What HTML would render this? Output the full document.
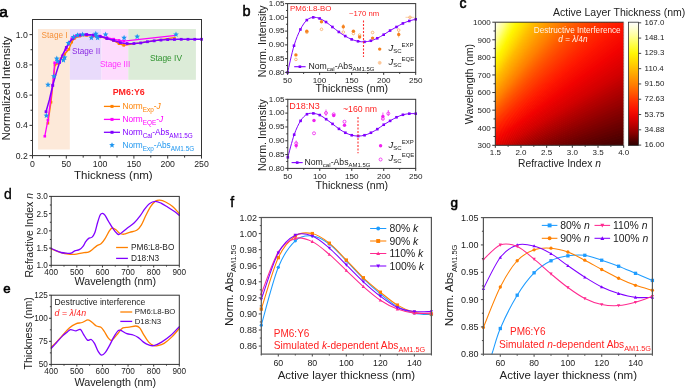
<!DOCTYPE html>
<html><head><meta charset="utf-8"><style>
html,body{margin:0;padding:0;background:#fff;}
body{width:685px;height:388px;overflow:hidden;}
svg{display:block;font-family:"Liberation Sans",sans-serif;will-change:transform;}
</style></head><body>
<svg width="685" height="388" viewBox="0 0 685 388" font-family="Liberation Sans, sans-serif">
<text x="-0.8" y="16.9" font-size="15.5" fill="#000" stroke="#000" stroke-width="0.7">a</text>
<rect x="38" y="29" width="31.8" height="120.5" fill="#fde9d9"/>
<rect x="69.8" y="29" width="31.7" height="50.8" fill="#e9dbfb"/>
<rect x="101.5" y="29" width="26.8" height="50.8" fill="#fddcfd"/>
<rect x="128.3" y="29" width="67.6" height="50.8" fill="#dcecd8"/>
<text x="41.6" y="38.2" font-size="8.2" fill="#f59038">Stage I</text>
<text x="72" y="53.7" font-size="8.2" fill="#8a2be2">Stage II</text>
<text x="99.9" y="67.4" font-size="8.2" fill="#ff30ff">Stage III</text>
<text x="149.9" y="60.6" font-size="8.4" fill="#2f922f">Stage IV</text>
<polyline points="47.91,123.24 51.02,102.22 55.01,64.87 57.51,63.35 60.89,58.82 64.61,54.28 68.87,49.29 71.71,42.18 74.41,38.4 79.82,36.13 86.58,35.38 93.34,36.13 100.1,36.89 106.86,38.4 113.62,40.67 119.03,43.7 123.76,45.36 175.81,37.34" fill="none" stroke="#ff8000" stroke-width="1.3" stroke-linejoin="round"/>
<rect x="46.61" y="121.94" width="2.6" height="2.6" fill="#ff8000"/>
<rect x="49.72" y="100.92" width="2.6" height="2.6" fill="#ff8000"/>
<rect x="53.71" y="63.57" width="2.6" height="2.6" fill="#ff8000"/>
<rect x="56.21" y="62.05" width="2.6" height="2.6" fill="#ff8000"/>
<rect x="59.59" y="57.52" width="2.6" height="2.6" fill="#ff8000"/>
<rect x="63.31" y="52.98" width="2.6" height="2.6" fill="#ff8000"/>
<rect x="67.57" y="47.99" width="2.6" height="2.6" fill="#ff8000"/>
<rect x="70.41" y="40.88" width="2.6" height="2.6" fill="#ff8000"/>
<rect x="73.11" y="37.1" width="2.6" height="2.6" fill="#ff8000"/>
<rect x="78.52" y="34.83" width="2.6" height="2.6" fill="#ff8000"/>
<rect x="85.28" y="34.08" width="2.6" height="2.6" fill="#ff8000"/>
<rect x="92.04" y="34.83" width="2.6" height="2.6" fill="#ff8000"/>
<rect x="98.8" y="35.59" width="2.6" height="2.6" fill="#ff8000"/>
<rect x="105.56" y="37.1" width="2.6" height="2.6" fill="#ff8000"/>
<rect x="112.32" y="39.37" width="2.6" height="2.6" fill="#ff8000"/>
<rect x="117.73" y="42.4" width="2.6" height="2.6" fill="#ff8000"/>
<rect x="122.46" y="44.06" width="2.6" height="2.6" fill="#ff8000"/>
<polyline points="44.8,136.24 47.91,120.21 52.58,85.58 54.67,62.75 58.8,62.75 62.24,55.79 65.62,49.74 68.33,44.45 71.71,38.86 75.09,36.44 79.82,35.23 86.58,34.62 93.34,35.38 100.1,36.13 106.86,37.65 113.62,39.16 119.03,40.37 123.76,41.12 175.81,35.38" fill="none" stroke="#ff00ff" stroke-width="1.3" stroke-linejoin="round"/>
<rect x="43.5" y="134.94" width="2.6" height="2.6" fill="#ff00ff"/>
<rect x="46.61" y="118.91" width="2.6" height="2.6" fill="#ff00ff"/>
<rect x="51.28" y="84.28" width="2.6" height="2.6" fill="#ff00ff"/>
<rect x="53.37" y="61.45" width="2.6" height="2.6" fill="#ff00ff"/>
<rect x="57.5" y="61.45" width="2.6" height="2.6" fill="#ff00ff"/>
<rect x="60.94" y="54.49" width="2.6" height="2.6" fill="#ff00ff"/>
<rect x="64.32" y="48.44" width="2.6" height="2.6" fill="#ff00ff"/>
<rect x="67.03" y="43.15" width="2.6" height="2.6" fill="#ff00ff"/>
<rect x="70.41" y="37.56" width="2.6" height="2.6" fill="#ff00ff"/>
<rect x="73.79" y="35.14" width="2.6" height="2.6" fill="#ff00ff"/>
<rect x="78.52" y="33.93" width="2.6" height="2.6" fill="#ff00ff"/>
<rect x="85.28" y="33.32" width="2.6" height="2.6" fill="#ff00ff"/>
<rect x="92.04" y="34.08" width="2.6" height="2.6" fill="#ff00ff"/>
<rect x="98.8" y="34.83" width="2.6" height="2.6" fill="#ff00ff"/>
<rect x="105.56" y="36.35" width="2.6" height="2.6" fill="#ff00ff"/>
<rect x="112.32" y="37.86" width="2.6" height="2.6" fill="#ff00ff"/>
<rect x="117.73" y="39.07" width="2.6" height="2.6" fill="#ff00ff"/>
<rect x="122.46" y="39.82" width="2.6" height="2.6" fill="#ff00ff"/>
<polyline points="46.02,111.75 49.4,99.65 52.78,85.28 56.16,73.18 59.54,62.45 62.92,53.98 66.3,47.48 69.68,41.88 73.06,38.25 76.44,35.98 79.82,34.92 83.2,34.62 86.58,34.62 89.96,34.77 93.34,35.08 96.72,35.68 100.1,36.44 103.48,37.34 106.86,38.55 110.24,39.46 113.62,40.37 117,41.58 120.38,42.64 123.76,43.24 127.14,43.54 130.52,43.7 133.9,43.54 137.28,43.24 140.66,42.94 144.04,42.33 147.42,41.73 150.8,41.28 154.18,40.82 157.56,40.37 160.94,40.07 164.32,39.76 167.7,39.61 171.08,39.46 174.46,39.46 177.84,39.31 181.22,39.31 184.6,39.31 187.98,39.31 191.36,39.31 194.74,39.31 198.12,39.31 201.5,39.31" fill="none" stroke="#8000ff" stroke-width="1.5" stroke-linejoin="round"/>
<rect x="44.62" y="110.35" width="2.8" height="2.8" fill="#8000ff"/>
<rect x="51.38" y="83.88" width="2.8" height="2.8" fill="#8000ff"/>
<rect x="58.14" y="61.05" width="2.8" height="2.8" fill="#8000ff"/>
<rect x="64.9" y="46.08" width="2.8" height="2.8" fill="#8000ff"/>
<rect x="71.66" y="36.85" width="2.8" height="2.8" fill="#8000ff"/>
<rect x="78.42" y="33.52" width="2.8" height="2.8" fill="#8000ff"/>
<rect x="85.18" y="33.22" width="2.8" height="2.8" fill="#8000ff"/>
<rect x="91.94" y="33.68" width="2.8" height="2.8" fill="#8000ff"/>
<rect x="98.7" y="35.04" width="2.8" height="2.8" fill="#8000ff"/>
<rect x="105.46" y="37.15" width="2.8" height="2.8" fill="#8000ff"/>
<rect x="112.22" y="38.97" width="2.8" height="2.8" fill="#8000ff"/>
<rect x="118.98" y="41.24" width="2.8" height="2.8" fill="#8000ff"/>
<rect x="125.74" y="42.14" width="2.8" height="2.8" fill="#8000ff"/>
<rect x="132.5" y="42.14" width="2.8" height="2.8" fill="#8000ff"/>
<rect x="139.26" y="41.54" width="2.8" height="2.8" fill="#8000ff"/>
<rect x="146.02" y="40.33" width="2.8" height="2.8" fill="#8000ff"/>
<rect x="152.78" y="39.42" width="2.8" height="2.8" fill="#8000ff"/>
<rect x="159.54" y="38.67" width="2.8" height="2.8" fill="#8000ff"/>
<rect x="166.3" y="38.21" width="2.8" height="2.8" fill="#8000ff"/>
<rect x="173.06" y="38.06" width="2.8" height="2.8" fill="#8000ff"/>
<rect x="179.82" y="37.91" width="2.8" height="2.8" fill="#8000ff"/>
<rect x="186.58" y="37.91" width="2.8" height="2.8" fill="#8000ff"/>
<rect x="193.34" y="37.91" width="2.8" height="2.8" fill="#8000ff"/>
<rect x="200.1" y="37.91" width="2.8" height="2.8" fill="#8000ff"/>
<polygon points="46.4,112.6 47.19,114.51 49.25,114.67 47.68,116.02 48.16,118.03 46.4,116.95 44.64,118.03 45.12,116.02 43.55,114.67 45.61,114.51" fill="#1e96f0"/>
<polygon points="48,81.8 48.79,83.71 50.85,83.87 49.28,85.22 49.76,87.23 48,86.15 46.24,87.23 46.72,85.22 45.15,83.87 47.21,83.71" fill="#1e96f0"/>
<polygon points="53.9,73.3 54.69,75.21 56.75,75.37 55.18,76.72 55.66,78.73 53.9,77.65 52.14,78.73 52.62,76.72 51.05,75.37 53.11,75.21" fill="#1e96f0"/>
<polygon points="56.8,55.6 57.59,57.51 59.65,57.67 58.08,59.02 58.56,61.03 56.8,59.95 55.04,61.03 55.52,59.02 53.95,57.67 56.01,57.51" fill="#1e96f0"/>
<polygon points="57.6,58.2 58.39,60.11 60.45,60.27 58.88,61.62 59.36,63.63 57.6,62.55 55.84,63.63 56.32,61.62 54.75,60.27 56.81,60.11" fill="#1e96f0"/>
<polygon points="64.6,54.5 65.39,56.41 67.45,56.57 65.88,57.92 66.36,59.93 64.6,58.85 62.84,59.93 63.32,57.92 61.75,56.57 63.81,56.41" fill="#1e96f0"/>
<polygon points="63.4,57.2 64.19,59.11 66.25,59.27 64.68,60.62 65.16,62.63 63.4,61.55 61.64,62.63 62.12,60.62 60.55,59.27 62.61,59.11" fill="#1e96f0"/>
<polygon points="68.4,40.2 69.19,42.11 71.25,42.27 69.68,43.62 70.16,45.63 68.4,44.55 66.64,45.63 67.12,43.62 65.55,42.27 67.61,42.11" fill="#1e96f0"/>
<polygon points="73.5,34 74.29,35.91 76.35,36.07 74.78,37.42 75.26,39.43 73.5,38.35 71.74,39.43 72.22,37.42 70.65,36.07 72.71,35.91" fill="#1e96f0"/>
<polygon points="77.5,32.2 78.29,34.11 80.35,34.27 78.78,35.62 79.26,37.63 77.5,36.55 75.74,37.63 76.22,35.62 74.65,34.27 76.71,34.11" fill="#1e96f0"/>
<polygon points="82.6,31.5 83.39,33.41 85.45,33.57 83.88,34.92 84.36,36.93 82.6,35.85 80.84,36.93 81.32,34.92 79.75,33.57 81.81,33.41" fill="#1e96f0"/>
<polygon points="91.4,34.8 92.19,36.71 94.25,36.87 92.68,38.22 93.16,40.23 91.4,39.15 89.64,40.23 90.12,38.22 88.55,36.87 90.61,36.71" fill="#1e96f0"/>
<polygon points="95.8,30.8 96.59,32.71 98.65,32.87 97.08,34.22 97.56,36.23 95.8,35.15 94.04,36.23 94.52,34.22 92.95,32.87 95.01,32.71" fill="#1e96f0"/>
<polygon points="97.6,34.8 98.39,36.71 100.45,36.87 98.88,38.22 99.36,40.23 97.6,39.15 95.84,40.23 96.32,38.22 94.75,36.87 96.81,36.71" fill="#1e96f0"/>
<polygon points="96.5,32.8 97.29,34.71 99.35,34.87 97.78,36.22 98.26,38.23 96.5,37.15 94.74,38.23 95.22,36.22 93.65,34.87 95.71,34.71" fill="#1e96f0"/>
<polygon points="105.6,31.5 106.39,33.41 108.45,33.57 106.88,34.92 107.36,36.93 105.6,35.85 103.84,36.93 104.32,34.92 102.75,33.57 104.81,33.41" fill="#1e96f0"/>
<polygon points="124.1,34.8 124.89,36.71 126.95,36.87 125.38,38.22 125.86,40.23 124.1,39.15 122.34,40.23 122.82,38.22 121.25,36.87 123.31,36.71" fill="#1e96f0"/>
<polygon points="137.2,33.7 137.99,35.61 140.05,35.77 138.48,37.12 138.96,39.13 137.2,38.05 135.44,39.13 135.92,37.12 134.35,35.77 136.41,35.61" fill="#1e96f0"/>
<polygon points="176,31.5 176.79,33.41 178.85,33.57 177.28,34.92 177.76,36.93 176,35.85 174.24,36.93 174.72,34.92 173.15,33.57 175.21,33.41" fill="#1e96f0"/>
<rect x="32.5" y="19.5" width="169" height="136.1" fill="none" stroke="#333" stroke-width="1"/>
<line x1="29.5" y1="155.6" x2="32.5" y2="155.6" stroke="#333" stroke-width="1"/>
<line x1="29.5" y1="125.36" x2="32.5" y2="125.36" stroke="#333" stroke-width="1"/>
<line x1="29.5" y1="95.11" x2="32.5" y2="95.11" stroke="#333" stroke-width="1"/>
<line x1="29.5" y1="64.87" x2="32.5" y2="64.87" stroke="#333" stroke-width="1"/>
<line x1="29.5" y1="34.62" x2="32.5" y2="34.62" stroke="#333" stroke-width="1"/>
<line x1="30.5" y1="140.48" x2="32.5" y2="140.48" stroke="#333" stroke-width="1"/>
<line x1="30.5" y1="110.23" x2="32.5" y2="110.23" stroke="#333" stroke-width="1"/>
<line x1="30.5" y1="79.99" x2="32.5" y2="79.99" stroke="#333" stroke-width="1"/>
<line x1="30.5" y1="49.74" x2="32.5" y2="49.74" stroke="#333" stroke-width="1"/>
<text x="27.8" y="158.73" font-size="8.7" fill="#222" text-anchor="end">0.2</text>
<text x="27.8" y="128.49" font-size="8.7" fill="#222" text-anchor="end">0.4</text>
<text x="27.8" y="98.24" font-size="8.7" fill="#222" text-anchor="end">0.6</text>
<text x="27.8" y="68" font-size="8.7" fill="#222" text-anchor="end">0.8</text>
<text x="27.8" y="37.75" font-size="8.7" fill="#222" text-anchor="end">1.0</text>
<line x1="32.5" y1="155.6" x2="32.5" y2="158.6" stroke="#333" stroke-width="1"/>
<line x1="66.3" y1="155.6" x2="66.3" y2="158.6" stroke="#333" stroke-width="1"/>
<line x1="100.1" y1="155.6" x2="100.1" y2="158.6" stroke="#333" stroke-width="1"/>
<line x1="133.9" y1="155.6" x2="133.9" y2="158.6" stroke="#333" stroke-width="1"/>
<line x1="167.7" y1="155.6" x2="167.7" y2="158.6" stroke="#333" stroke-width="1"/>
<line x1="201.5" y1="155.6" x2="201.5" y2="158.6" stroke="#333" stroke-width="1"/>
<line x1="49.4" y1="155.6" x2="49.4" y2="157.6" stroke="#333" stroke-width="1"/>
<line x1="83.2" y1="155.6" x2="83.2" y2="157.6" stroke="#333" stroke-width="1"/>
<line x1="117" y1="155.6" x2="117" y2="157.6" stroke="#333" stroke-width="1"/>
<line x1="150.8" y1="155.6" x2="150.8" y2="157.6" stroke="#333" stroke-width="1"/>
<line x1="184.6" y1="155.6" x2="184.6" y2="157.6" stroke="#333" stroke-width="1"/>
<text x="32.5" y="167" font-size="8.7" fill="#222" text-anchor="middle">0</text>
<text x="66.3" y="167" font-size="8.7" fill="#222" text-anchor="middle">50</text>
<text x="100.1" y="167" font-size="8.7" fill="#222" text-anchor="middle">100</text>
<text x="133.9" y="167" font-size="8.7" fill="#222" text-anchor="middle">150</text>
<text x="167.7" y="167" font-size="8.7" fill="#222" text-anchor="middle">200</text>
<text x="201.5" y="167" font-size="8.7" fill="#222" text-anchor="middle">250</text>
<text x="9.5" y="88.5" font-size="11.5" fill="#222" text-anchor="middle" transform="rotate(-90 9.5 88.5)">Normalized Intensity</text>
<text x="113.4" y="178.6" font-size="11.5" fill="#222" text-anchor="middle">Thickness (nm)</text>
<text x="112.7" y="95" font-size="8.9" fill="#ff1f1f" font-weight="bold">PM6:Y6</text>
<line x1="103.9" y1="106.4" x2="120" y2="106.4" stroke="#ff8000" stroke-width="1.3"/>
<rect x="110.5" y="104.9" width="3" height="3" fill="#ff8000"/>
<line x1="103.9" y1="119.4" x2="120" y2="119.4" stroke="#ff00ff" stroke-width="1.3"/>
<rect x="110.5" y="117.9" width="3" height="3" fill="#ff00ff"/>
<line x1="103.9" y1="132.3" x2="120" y2="132.3" stroke="#8000ff" stroke-width="1.3"/>
<rect x="110.5" y="130.8" width="3" height="3" fill="#8000ff"/>
<polygon points="112,142.2 112.79,144.11 114.85,144.27 113.28,145.62 113.76,147.63 112,146.55 110.24,147.63 110.72,145.62 109.15,144.27 111.21,144.11" fill="#1e96f0"/>
<text x="122.4" y="109.4" font-size="8.3" fill="#ff8000"><tspan>Norm</tspan><tspan font-size="6.4" dy="2.2">Exp</tspan><tspan dy="-2.2">-</tspan><tspan font-style="italic">J</tspan></text>
<text x="122.4" y="122.4" font-size="8.3" fill="#ff00ff"><tspan>Norm</tspan><tspan font-size="6.4" dy="2.2">EQE</tspan><tspan dy="-2.2">-</tspan><tspan font-style="italic">J</tspan></text>
<text x="122.4" y="135.3" font-size="8.3" fill="#8000ff"><tspan>Norm</tspan><tspan font-size="6.4" dy="2.2">Cal</tspan><tspan dy="-2.2">-Abs</tspan><tspan font-size="6.4" dy="2.2">AM1.5G</tspan></text>
<text x="122.4" y="148.3" font-size="8.3" fill="#1e96f0"><tspan>Norm</tspan><tspan font-size="6.4" dy="2.2">Exp</tspan><tspan dy="-2.2">-Abs</tspan><tspan font-size="6.4" dy="2.2">AM1.5G</tspan></text>
<text x="242.6" y="15.6" font-size="14.5" fill="#000" stroke="#000" stroke-width="0.5">b</text>
<g>
<path d="M287.6,72.4 C288.67,67.95 291.87,52.86 294,45.71 C296.14,38.55 298.28,33.73 300.41,29.47 C302.55,25.2 304.68,22.13 306.81,20.11 C308.95,18.09 311.09,17.64 313.22,17.36 C315.36,17.08 317.49,17.68 319.62,18.46 C321.76,19.24 323.9,20.62 326.03,22.04 C328.17,23.46 330.3,25.34 332.44,26.99 C334.57,28.64 336.71,30.43 338.84,31.95 C340.98,33.46 343.11,34.84 345.25,36.07 C347.38,37.31 349.51,38.5 351.65,39.38 C353.78,40.25 355.92,40.89 358.06,41.3 C360.19,41.72 362.32,41.94 364.46,41.85 C366.59,41.76 368.73,41.35 370.87,40.75 C373,40.16 375.13,39.28 377.27,38.28 C379.4,37.27 381.54,35.98 383.68,34.7 C385.81,33.41 387.94,31.85 390.08,30.57 C392.21,29.29 394.35,28.18 396.49,26.99 C398.62,25.8 400.75,24.42 402.89,23.41 C405.02,22.41 407.16,21.63 409.29,20.94 C411.43,20.25 414.63,19.56 415.7,19.29" fill="none" stroke="#8000ff" stroke-width="1.0" stroke-linejoin="round" stroke-linecap="round"/>
<rect x="286.3" y="71.1" width="2.6" height="2.6" fill="#8000ff"/>
<rect x="292.7" y="44.41" width="2.6" height="2.6" fill="#8000ff"/>
<rect x="299.11" y="28.17" width="2.6" height="2.6" fill="#8000ff"/>
<rect x="305.51" y="18.81" width="2.6" height="2.6" fill="#8000ff"/>
<rect x="311.92" y="16.06" width="2.6" height="2.6" fill="#8000ff"/>
<rect x="318.32" y="17.16" width="2.6" height="2.6" fill="#8000ff"/>
<rect x="324.73" y="20.74" width="2.6" height="2.6" fill="#8000ff"/>
<rect x="331.13" y="25.69" width="2.6" height="2.6" fill="#8000ff"/>
<rect x="337.54" y="30.65" width="2.6" height="2.6" fill="#8000ff"/>
<rect x="343.94" y="34.77" width="2.6" height="2.6" fill="#8000ff"/>
<rect x="350.35" y="38.08" width="2.6" height="2.6" fill="#8000ff"/>
<rect x="356.75" y="40" width="2.6" height="2.6" fill="#8000ff"/>
<rect x="363.16" y="40.55" width="2.6" height="2.6" fill="#8000ff"/>
<rect x="369.56" y="39.45" width="2.6" height="2.6" fill="#8000ff"/>
<rect x="375.97" y="36.98" width="2.6" height="2.6" fill="#8000ff"/>
<rect x="382.38" y="33.4" width="2.6" height="2.6" fill="#8000ff"/>
<rect x="388.78" y="29.27" width="2.6" height="2.6" fill="#8000ff"/>
<rect x="395.19" y="25.69" width="2.6" height="2.6" fill="#8000ff"/>
<rect x="401.59" y="22.11" width="2.6" height="2.6" fill="#8000ff"/>
<rect x="407.99" y="19.64" width="2.6" height="2.6" fill="#8000ff"/>
<rect x="414.4" y="17.99" width="2.6" height="2.6" fill="#8000ff"/>
<line x1="363.5" y1="20.6" x2="363.5" y2="57" stroke="#ff3030" stroke-width="1.1" stroke-dasharray="2,1.5"/>
<circle cx="295.9" cy="59.4" r="1.3" fill="#fff" stroke="#f6a050" stroke-width="0.7"/>
<circle cx="306.8" cy="32.3" r="1.3" fill="#fff" stroke="#f6a050" stroke-width="0.7"/>
<circle cx="321.5" cy="29.3" r="1.3" fill="#fff" stroke="#f6a050" stroke-width="0.7"/>
<circle cx="343.3" cy="32.1" r="1.3" fill="#fff" stroke="#f6a050" stroke-width="0.7"/>
<circle cx="353.4" cy="33.5" r="1.3" fill="#fff" stroke="#f6a050" stroke-width="0.7"/>
<circle cx="359.6" cy="35.1" r="1.3" fill="#fff" stroke="#f6a050" stroke-width="0.7"/>
<circle cx="372.6" cy="32.5" r="1.3" fill="#fff" stroke="#f6a050" stroke-width="0.7"/>
<circle cx="398.7" cy="30.1" r="1.3" fill="#fff" stroke="#f6a050" stroke-width="0.7"/>
<circle cx="410" cy="17.3" r="1.3" fill="#fff" stroke="#f6a050" stroke-width="0.7"/>
<circle cx="295.9" cy="54.9" r="1.7" fill="#f5821f"/>
<circle cx="306.8" cy="31.3" r="1.7" fill="#f5821f"/>
<circle cx="321.5" cy="21.7" r="1.7" fill="#f5821f"/>
<circle cx="343.3" cy="26.8" r="1.7" fill="#f5821f"/>
<circle cx="353.4" cy="31.3" r="1.7" fill="#f5821f"/>
<circle cx="359.6" cy="37" r="1.7" fill="#f5821f"/>
<circle cx="372.6" cy="38.1" r="1.7" fill="#f5821f"/>
<circle cx="398.7" cy="34.5" r="1.7" fill="#f5821f"/>
<line x1="343.3" y1="24" x2="343.3" y2="29.5" stroke="#f5821f" stroke-width="0.5"/>
<line x1="398.7" y1="31.5" x2="398.7" y2="37.5" stroke="#f5821f" stroke-width="0.5"/>
<line x1="405.5" y1="17.3" x2="414.5" y2="17.3" stroke="#f6a050" stroke-width="0.5"/>
</g>
<rect x="287.6" y="3.6" width="128.1" height="68.8" fill="none" stroke="#333" stroke-width="1"/>
<line x1="285.1" y1="72.4" x2="287.6" y2="72.4" stroke="#333" stroke-width="1"/>
<line x1="285.1" y1="58.64" x2="287.6" y2="58.64" stroke="#333" stroke-width="1"/>
<line x1="285.1" y1="44.88" x2="287.6" y2="44.88" stroke="#333" stroke-width="1"/>
<line x1="285.1" y1="31.12" x2="287.6" y2="31.12" stroke="#333" stroke-width="1"/>
<line x1="285.1" y1="17.36" x2="287.6" y2="17.36" stroke="#333" stroke-width="1"/>
<line x1="285.1" y1="3.6" x2="287.6" y2="3.6" stroke="#333" stroke-width="1"/>
<line x1="286.1" y1="65.52" x2="287.6" y2="65.52" stroke="#333" stroke-width="1"/>
<line x1="286.1" y1="51.76" x2="287.6" y2="51.76" stroke="#333" stroke-width="1"/>
<line x1="286.1" y1="38" x2="287.6" y2="38" stroke="#333" stroke-width="1"/>
<line x1="286.1" y1="24.24" x2="287.6" y2="24.24" stroke="#333" stroke-width="1"/>
<line x1="286.1" y1="10.48" x2="287.6" y2="10.48" stroke="#333" stroke-width="1"/>
<text x="284.6" y="74.6" font-size="8.1" fill="#222" text-anchor="end">0.80</text>
<text x="284.6" y="60.84" font-size="8.1" fill="#222" text-anchor="end">0.85</text>
<text x="284.6" y="47.08" font-size="8.1" fill="#222" text-anchor="end">0.90</text>
<text x="284.6" y="33.32" font-size="8.1" fill="#222" text-anchor="end">0.95</text>
<text x="284.6" y="19.56" font-size="8.1" fill="#222" text-anchor="end">1.00</text>
<text x="284.6" y="5.8" font-size="8.1" fill="#222" text-anchor="end">1.05</text>
<line x1="287.6" y1="72.4" x2="287.6" y2="74.9" stroke="#333" stroke-width="1"/>
<line x1="319.62" y1="72.4" x2="319.62" y2="74.9" stroke="#333" stroke-width="1"/>
<line x1="351.65" y1="72.4" x2="351.65" y2="74.9" stroke="#333" stroke-width="1"/>
<line x1="383.68" y1="72.4" x2="383.68" y2="74.9" stroke="#333" stroke-width="1"/>
<line x1="415.7" y1="72.4" x2="415.7" y2="74.9" stroke="#333" stroke-width="1"/>
<line x1="303.61" y1="72.4" x2="303.61" y2="73.9" stroke="#333" stroke-width="1"/>
<line x1="335.64" y1="72.4" x2="335.64" y2="73.9" stroke="#333" stroke-width="1"/>
<line x1="367.66" y1="72.4" x2="367.66" y2="73.9" stroke="#333" stroke-width="1"/>
<line x1="399.69" y1="72.4" x2="399.69" y2="73.9" stroke="#333" stroke-width="1"/>
<text x="287.6" y="82.5" font-size="8.1" fill="#222" text-anchor="middle">50</text>
<text x="319.62" y="82.5" font-size="8.1" fill="#222" text-anchor="middle">100</text>
<text x="351.65" y="82.5" font-size="8.1" fill="#222" text-anchor="middle">150</text>
<text x="383.68" y="82.5" font-size="8.1" fill="#222" text-anchor="middle">200</text>
<text x="415.7" y="82.5" font-size="8.1" fill="#222" text-anchor="middle">250</text>
<text x="290.1" y="10.8" font-size="7.9" fill="#ff1f1f">PM6:L8-BO</text>
<text x="379.1" y="15.9" font-size="7.7" fill="#ff1f1f" text-anchor="end">~170 nm</text>
<text x="266.4" y="41.2" font-size="10.7" fill="#222" text-anchor="middle" transform="rotate(-90 266.4 41.2)">Norm. Intensity</text>
<text x="351.8" y="91.9" font-size="10.6" fill="#222" text-anchor="middle">Thickness (nm)</text>
<line x1="294.2" y1="66.7" x2="305.6" y2="66.7" stroke="#8000ff" stroke-width="1.1"/>
<rect x="298.6" y="65.4" width="2.6" height="2.6" fill="#8000ff"/>
<text x="308.4" y="69.0" font-size="8.7" fill="#222">Nom<tspan font-size="6.2" dy="1.9">cal</tspan><tspan dy="-1.9">-Abs</tspan><tspan font-size="6.0" dy="1.9">AM1.5G</tspan></text>
<circle cx="379.7" cy="49.1" r="1.7" fill="#f5821f"/>
<circle cx="379.7" cy="62.8" r="1.5" fill="#fcc89a" stroke="#fcc89a" stroke-width="0.8"/>
<text x="388.4" y="51.2" font-size="9.5" fill="#222"><tspan font-style="italic">J</tspan><tspan font-size="6.0" dy="2.2">SC</tspan><tspan font-size="6.0" dy="-6.0">EXP</tspan></text>
<text x="388.4" y="64.8" font-size="9.5" fill="#222"><tspan font-style="italic">J</tspan><tspan font-size="6.0" dy="2.2">SC</tspan><tspan font-size="6.0" dy="-6.0">EQE</tspan></text>
<path d="M287.8,157.34 C288.87,153.57 292.06,140.76 294.19,134.68 C296.33,128.6 298.46,124.27 300.59,120.86 C302.72,117.45 304.85,115.47 306.99,114.23 C309.12,112.98 311.25,113.26 313.38,113.4 C315.51,113.53 317.64,114.09 319.77,115.05 C321.91,116.02 324.04,117.73 326.17,119.2 C328.3,120.67 330.43,122.29 332.56,123.9 C334.7,125.51 336.83,127.4 338.96,128.87 C341.09,130.35 343.22,131.68 345.36,132.74 C347.49,133.8 349.62,134.68 351.75,135.23 C353.88,135.78 356.01,136.06 358.14,136.06 C360.28,136.06 362.41,135.78 364.54,135.23 C366.67,134.68 368.8,133.76 370.94,132.74 C373.07,131.73 375.2,130.49 377.33,129.15 C379.46,127.82 381.59,126.11 383.73,124.73 C385.86,123.35 387.99,122.1 390.12,120.86 C392.25,119.62 394.38,118.28 396.51,117.27 C398.65,116.25 400.78,115.38 402.91,114.78 C405.04,114.18 407.17,113.86 409.3,113.67 C411.44,113.49 414.63,113.67 415.7,113.67" fill="none" stroke="#8000ff" stroke-width="1.0" stroke-linejoin="round" stroke-linecap="round"/>
<rect x="286.5" y="156.04" width="2.6" height="2.6" fill="#8000ff"/>
<rect x="292.89" y="133.38" width="2.6" height="2.6" fill="#8000ff"/>
<rect x="299.29" y="119.56" width="2.6" height="2.6" fill="#8000ff"/>
<rect x="305.69" y="112.93" width="2.6" height="2.6" fill="#8000ff"/>
<rect x="312.08" y="112.1" width="2.6" height="2.6" fill="#8000ff"/>
<rect x="318.47" y="113.75" width="2.6" height="2.6" fill="#8000ff"/>
<rect x="324.87" y="117.9" width="2.6" height="2.6" fill="#8000ff"/>
<rect x="331.26" y="122.6" width="2.6" height="2.6" fill="#8000ff"/>
<rect x="337.66" y="127.57" width="2.6" height="2.6" fill="#8000ff"/>
<rect x="344.06" y="131.44" width="2.6" height="2.6" fill="#8000ff"/>
<rect x="350.45" y="133.93" width="2.6" height="2.6" fill="#8000ff"/>
<rect x="356.84" y="134.76" width="2.6" height="2.6" fill="#8000ff"/>
<rect x="363.24" y="133.93" width="2.6" height="2.6" fill="#8000ff"/>
<rect x="369.63" y="131.44" width="2.6" height="2.6" fill="#8000ff"/>
<rect x="376.03" y="127.85" width="2.6" height="2.6" fill="#8000ff"/>
<rect x="382.43" y="123.43" width="2.6" height="2.6" fill="#8000ff"/>
<rect x="388.82" y="119.56" width="2.6" height="2.6" fill="#8000ff"/>
<rect x="395.21" y="115.97" width="2.6" height="2.6" fill="#8000ff"/>
<rect x="401.61" y="113.48" width="2.6" height="2.6" fill="#8000ff"/>
<rect x="408" y="112.37" width="2.6" height="2.6" fill="#8000ff"/>
<rect x="414.4" y="112.37" width="2.6" height="2.6" fill="#8000ff"/>
<line x1="358" y1="117" x2="358" y2="153.2" stroke="#ff3030" stroke-width="1.1" stroke-dasharray="2,1.5"/>
<circle cx="296.2" cy="143.3" r="1.5" fill="#fff" stroke="#f020f0" stroke-width="0.8"/>
<circle cx="314" cy="133.3" r="1.5" fill="#fff" stroke="#f020f0" stroke-width="0.8"/>
<circle cx="326" cy="113" r="1.5" fill="#fff" stroke="#f020f0" stroke-width="0.8"/>
<circle cx="333.7" cy="114.3" r="1.5" fill="#fff" stroke="#f020f0" stroke-width="0.8"/>
<circle cx="344.5" cy="121.7" r="1.5" fill="#fff" stroke="#f020f0" stroke-width="0.8"/>
<circle cx="382.9" cy="118.8" r="1.5" fill="#fff" stroke="#f020f0" stroke-width="0.8"/>
<circle cx="388.3" cy="113.5" r="1.5" fill="#fff" stroke="#f020f0" stroke-width="0.8"/>
<circle cx="296.2" cy="145.6" r="1.7" fill="#f020f0"/>
<circle cx="314" cy="120.5" r="1.7" fill="#f020f0"/>
<circle cx="333.7" cy="115.5" r="1.7" fill="#f020f0"/>
<circle cx="344.5" cy="125.3" r="1.7" fill="#f020f0"/>
<circle cx="382.9" cy="116.4" r="1.7" fill="#f020f0"/>
<line x1="296.2" y1="140.5" x2="296.2" y2="148.5" stroke="#f020f0" stroke-width="0.7"/>
<line x1="326" y1="109.5" x2="326" y2="116" stroke="#f020f0" stroke-width="0.7"/>
<line x1="382.9" y1="112.5" x2="382.9" y2="120" stroke="#f020f0" stroke-width="0.7"/>
<line x1="388.3" y1="110" x2="388.3" y2="116" stroke="#f020f0" stroke-width="0.7"/>
<rect x="287.8" y="99.3" width="127.9" height="69.1" fill="none" stroke="#333" stroke-width="1"/>
<line x1="285.3" y1="168.4" x2="287.8" y2="168.4" stroke="#333" stroke-width="1"/>
<line x1="285.3" y1="154.58" x2="287.8" y2="154.58" stroke="#333" stroke-width="1"/>
<line x1="285.3" y1="140.76" x2="287.8" y2="140.76" stroke="#333" stroke-width="1"/>
<line x1="285.3" y1="126.94" x2="287.8" y2="126.94" stroke="#333" stroke-width="1"/>
<line x1="285.3" y1="113.12" x2="287.8" y2="113.12" stroke="#333" stroke-width="1"/>
<line x1="285.3" y1="99.3" x2="287.8" y2="99.3" stroke="#333" stroke-width="1"/>
<line x1="286.3" y1="161.49" x2="287.8" y2="161.49" stroke="#333" stroke-width="1"/>
<line x1="286.3" y1="147.67" x2="287.8" y2="147.67" stroke="#333" stroke-width="1"/>
<line x1="286.3" y1="133.85" x2="287.8" y2="133.85" stroke="#333" stroke-width="1"/>
<line x1="286.3" y1="120.03" x2="287.8" y2="120.03" stroke="#333" stroke-width="1"/>
<line x1="286.3" y1="106.21" x2="287.8" y2="106.21" stroke="#333" stroke-width="1"/>
<text x="284.6" y="170.6" font-size="8.1" fill="#222" text-anchor="end">0.80</text>
<text x="284.6" y="156.78" font-size="8.1" fill="#222" text-anchor="end">0.85</text>
<text x="284.6" y="142.96" font-size="8.1" fill="#222" text-anchor="end">0.90</text>
<text x="284.6" y="129.14" font-size="8.1" fill="#222" text-anchor="end">0.95</text>
<text x="284.6" y="115.32" font-size="8.1" fill="#222" text-anchor="end">1.00</text>
<text x="284.6" y="101.5" font-size="8.1" fill="#222" text-anchor="end">1.05</text>
<line x1="287.8" y1="168.4" x2="287.8" y2="170.9" stroke="#333" stroke-width="1"/>
<line x1="319.77" y1="168.4" x2="319.77" y2="170.9" stroke="#333" stroke-width="1"/>
<line x1="351.75" y1="168.4" x2="351.75" y2="170.9" stroke="#333" stroke-width="1"/>
<line x1="383.73" y1="168.4" x2="383.73" y2="170.9" stroke="#333" stroke-width="1"/>
<line x1="415.7" y1="168.4" x2="415.7" y2="170.9" stroke="#333" stroke-width="1"/>
<line x1="303.79" y1="168.4" x2="303.79" y2="169.9" stroke="#333" stroke-width="1"/>
<line x1="335.76" y1="168.4" x2="335.76" y2="169.9" stroke="#333" stroke-width="1"/>
<line x1="367.74" y1="168.4" x2="367.74" y2="169.9" stroke="#333" stroke-width="1"/>
<line x1="399.71" y1="168.4" x2="399.71" y2="169.9" stroke="#333" stroke-width="1"/>
<text x="287.8" y="178.5" font-size="8.1" fill="#222" text-anchor="middle">50</text>
<text x="319.77" y="178.5" font-size="8.1" fill="#222" text-anchor="middle">100</text>
<text x="351.75" y="178.5" font-size="8.1" fill="#222" text-anchor="middle">150</text>
<text x="383.73" y="178.5" font-size="8.1" fill="#222" text-anchor="middle">200</text>
<text x="415.7" y="178.5" font-size="8.1" fill="#222" text-anchor="middle">250</text>
<text x="289.3" y="108.9" font-size="9.0" fill="#ff1f1f">D18:N3</text>
<text x="377.1" y="111.6" font-size="8.7" fill="#ff1f1f" text-anchor="end">~160 nm</text>
<text x="266.4" y="135.1" font-size="10.7" fill="#222" text-anchor="middle" transform="rotate(-90 266.4 135.1)">Norm. Intensity</text>
<text x="351.8" y="189.1" font-size="10.6" fill="#222" text-anchor="middle">Thickness (nm)</text>
<line x1="291.6" y1="162.6" x2="302.7" y2="162.6" stroke="#8000ff" stroke-width="1.1"/>
<rect x="295.9" y="161.3" width="2.6" height="2.6" fill="#8000ff"/>
<text x="304.4" y="164.6" font-size="8.7" fill="#222">Nom<tspan font-size="6.2" dy="1.9">cal</tspan><tspan dy="-1.9">-Abs</tspan><tspan font-size="6.0" dy="1.9">AM1.5G</tspan></text>
<circle cx="380.6" cy="145.8" r="1.7" fill="#f020f0"/>
<circle cx="380.6" cy="159.5" r="1.5" fill="#fff" stroke="#f020f0" stroke-width="0.8"/>
<text x="388.6" y="147.6" font-size="9.5" fill="#222"><tspan font-style="italic">J</tspan><tspan font-size="6.0" dy="2.2">SC</tspan><tspan font-size="6.0" dy="-6.0">EXP</tspan></text>
<text x="388.6" y="161.2" font-size="9.5" fill="#222"><tspan font-style="italic">J</tspan><tspan font-size="6.0" dy="2.2">SC</tspan><tspan font-size="6.0" dy="-6.0">EQE</tspan></text>
<text x="459.6" y="8" font-size="14.0" fill="#000" stroke="#000" stroke-width="0.6">c</text>
<clipPath id="hc"><rect x="495.3" y="22.2" width="128.4" height="123.1"/></clipPath>
<g clip-path="url(#hc)">
<rect x="495.3" y="22.2" width="128.4" height="123.1" fill="#ff7c00"/>
<polygon points="418.26,198.06 1018.26,197.24 999.28,48.34" fill="#3d0101"/>
<polygon points="418.26,198.06 999.87,50.66 997.31,40.87" fill="#400101"/>
<polygon points="418.26,198.06 997.93,43.19 995.25,33.48" fill="#460101"/>
<polygon points="418.26,198.06 995.9,35.79 993.11,26.18" fill="#4c0101"/>
<polygon points="418.26,198.06 993.8,28.48 990.9,18.95" fill="#520101"/>
<polygon points="418.26,198.06 991.61,21.24 988.62,11.81" fill="#580000"/>
<polygon points="418.26,198.06 989.36,14.09 986.27,4.75" fill="#5e0000"/>
<polygon points="418.26,198.06 987.04,7.02 983.85,-2.22" fill="#640000"/>
<polygon points="418.26,198.06 984.64,0.04 981.36,-9.1" fill="#6a0000"/>
<polygon points="418.26,198.06 982.19,-6.85 978.82,-15.89" fill="#6f0000"/>
<polygon points="418.26,198.06 979.67,-13.65 976.22,-22.59" fill="#750000"/>
<polygon points="418.26,198.06 977.09,-20.36 973.56,-29.2" fill="#7b0000"/>
<polygon points="418.26,198.06 974.46,-26.97 970.85,-35.71" fill="#800000"/>
<polygon points="418.26,198.06 971.78,-33.49 968.09,-42.12" fill="#860000"/>
<polygon points="418.26,198.06 969.05,-39.92 965.29,-48.44" fill="#8b0000"/>
<polygon points="418.26,198.06 966.27,-46.25 962.44,-54.66" fill="#910000"/>
<polygon points="418.26,198.06 963.45,-52.48 959.55,-60.79" fill="#970000"/>
<polygon points="418.26,198.06 960.59,-58.62 956.63,-66.82" fill="#9c0000"/>
<polygon points="418.26,198.06 957.69,-64.66 953.67,-72.75" fill="#a20000"/>
<polygon points="418.26,198.06 954.75,-70.6 950.68,-78.58" fill="#a70000"/>
<polygon points="418.26,198.06 951.78,-76.45 947.66,-84.32" fill="#ad0000"/>
<polygon points="418.26,198.06 948.79,-82.2 944.61,-89.96" fill="#b20000"/>
<polygon points="418.26,198.06 945.76,-87.85 941.54,-95.5" fill="#b70000"/>
<polygon points="418.26,198.06 942.71,-93.4 938.45,-100.94" fill="#bd0000"/>
<polygon points="418.26,198.06 939.64,-98.86 935.34,-106.29" fill="#c20000"/>
<polygon points="418.26,198.06 936.55,-104.22 932.21,-111.55" fill="#c80000"/>
<polygon points="418.26,198.06 933.44,-109.49 929.07,-116.71" fill="#cd0000"/>
<polygon points="418.26,198.06 930.32,-114.66 925.91,-121.77" fill="#d20000"/>
<polygon points="418.26,198.06 927.19,-119.74 922.74,-126.75" fill="#d60000"/>
<polygon points="418.26,198.06 924.04,-124.73 919.57,-131.63" fill="#d90000"/>
<polygon points="418.26,198.06 920.88,-129.62 916.39,-136.41" fill="#dd0100"/>
<polygon points="418.26,198.06 917.72,-134.42 913.2,-141.11" fill="#e10100"/>
<polygon points="418.26,198.06 914.55,-139.13 910.01,-145.72" fill="#e40100"/>
<polygon points="418.26,198.06 911.38,-143.75 906.82,-150.24" fill="#e80100"/>
<polygon points="418.26,198.06 908.21,-148.28 903.63,-154.68" fill="#eb0200"/>
<polygon points="418.26,198.06 905.03,-152.73 900.44,-159.02" fill="#ef0200"/>
<polygon points="418.26,198.06 901.86,-157.09 897.25,-163.28" fill="#f20200"/>
<polygon points="418.26,198.06 898.69,-161.37 894.07,-167.46" fill="#f40500"/>
<polygon points="418.26,198.06 895.53,-165.56 890.9,-171.56" fill="#f50700"/>
<polygon points="418.26,198.06 892.37,-169.67 887.73,-175.57" fill="#f70a00"/>
<polygon points="418.26,198.06 889.22,-173.69 884.57,-179.51" fill="#f80c00"/>
<polygon points="418.26,198.06 886.08,-177.64 881.42,-183.37" fill="#f90f00"/>
<polygon points="418.26,198.06 882.94,-181.51 878.28,-187.14" fill="#fb1100"/>
<polygon points="418.26,198.06 879.82,-185.3 875.16,-190.85" fill="#fc1300"/>
<polygon points="418.26,198.06 876.71,-189.02 872.04,-194.48" fill="#fe1600"/>
<polygon points="418.26,198.06 873.61,-192.66 868.94,-198.03" fill="#ff1900"/>
<polygon points="418.26,198.06 870.52,-196.22 865.86,-201.51" fill="#ff1c00"/>
<polygon points="418.26,198.06 867.45,-199.72 862.79,-204.93" fill="#ff2000"/>
<polygon points="418.26,198.06 864.4,-203.14 859.73,-208.27" fill="#ff2300"/>
<polygon points="418.26,198.06 861.36,-206.5 856.7,-211.54" fill="#ff2700"/>
<polygon points="418.26,198.06 858.33,-209.79 853.68,-214.75" fill="#ff2a00"/>
<polygon points="418.26,198.06 855.33,-213.01 850.68,-217.89" fill="#ff2e00"/>
<polygon points="418.26,198.06 852.34,-216.16 847.7,-220.97" fill="#ff3200"/>
<polygon points="418.26,198.06 849.37,-219.25 844.73,-223.99" fill="#ff3500"/>
<polygon points="418.26,198.06 846.42,-222.28 841.79,-226.94" fill="#ff3900"/>
<polygon points="418.26,198.06 843.49,-225.24 838.87,-229.83" fill="#ff3c00"/>
<polygon points="418.26,198.06 840.57,-228.15 835.96,-232.67" fill="#ff4000"/>
<polygon points="418.26,198.06 837.68,-230.99 833.08,-235.44" fill="#ff4300"/>
<polygon points="418.26,198.06 834.81,-233.78 830.22,-238.16" fill="#ff4700"/>
<polygon points="418.26,198.06 831.96,-236.51 827.38,-240.83" fill="#ff4b00"/>
<polygon points="418.26,198.06 829.13,-239.19 824.56,-243.44" fill="#ff4e00"/>
<polygon points="418.26,198.06 826.33,-241.81 821.77,-245.99" fill="#ff5200"/>
<polygon points="418.26,198.06 823.54,-244.38 819,-248.5" fill="#ff5600"/>
<polygon points="418.26,198.06 820.78,-246.89 816.25,-250.95" fill="#ff5900"/>
<polygon points="418.26,198.06 818.04,-249.35 813.52,-253.35" fill="#ff5d00"/>
<polygon points="418.26,198.06 815.32,-251.77 810.81,-255.71" fill="#ff6100"/>
<polygon points="418.26,198.06 812.62,-254.13 808.13,-258.01" fill="#ff6500"/>
<polygon points="418.26,198.06 809.95,-256.45 805.47,-260.27" fill="#ff6900"/>
<polygon points="418.26,198.06 807.3,-258.72 802.83,-262.49" fill="#ff6d00"/>
<polygon points="418.26,198.06 804.67,-260.95 800.22,-264.66" fill="#ff7100"/>
<polygon points="418.26,198.06 802.07,-263.13 797.63,-266.78" fill="#ff7500"/>
<polygon points="418.26,198.06 799.49,-265.26 795.06,-268.87" fill="#ff7900"/>
<polygon points="418.26,198.06 796.93,-267.36 792.52,-270.91" fill="#ff7d00"/>
<polygon points="418.26,198.06 794.39,-269.41 790,-272.91" fill="#ff8100"/>
<polygon points="418.26,198.06 791.88,-271.42 787.5,-274.87" fill="#ff8400"/>
<polygon points="418.26,198.06 789.39,-273.39 785.03,-276.79" fill="#ff8700"/>
<polygon points="418.26,198.06 786.92,-275.32 782.57,-278.68" fill="#ff8a00"/>
<polygon points="418.26,198.06 784.48,-277.22 780.14,-280.52" fill="#ff8e00"/>
<polygon points="418.26,198.06 782.06,-279.07 777.74,-282.33" fill="#ff9100"/>
<polygon points="418.26,198.06 779.66,-280.89 775.35,-284.11" fill="#ff9400"/>
<polygon points="418.26,198.06 777.28,-282.68 772.99,-285.85" fill="#ff9700"/>
<polygon points="418.26,198.06 774.93,-284.43 770.65,-287.55" fill="#ff9a00"/>
<polygon points="418.26,198.06 772.59,-286.14 768.34,-289.23" fill="#ff9e00"/>
<polygon points="418.26,198.06 770.28,-287.82 766.04,-290.87" fill="#ffa100"/>
<polygon points="418.26,198.06 768,-289.47 763.77,-292.47" fill="#ffa400"/>
<polygon points="418.26,198.06 765.73,-291.09 761.52,-294.05" fill="#ffa700"/>
<polygon points="418.26,198.06 763.49,-292.67 759.3,-295.6" fill="#ffaa00"/>
<polygon points="418.26,198.06 761.27,-294.23 757.09,-297.11" fill="#ffad00"/>
<polygon points="418.26,198.06 759.07,-295.76 754.9,-298.6" fill="#ffb000"/>
<polygon points="418.26,198.06 756.89,-297.25 752.74,-300.06" fill="#ffb300"/>
<polygon points="418.26,198.06 754.73,-298.72 750.6,-301.49" fill="#ffb600"/>
<polygon points="418.26,198.06 752.59,-300.16 748.48,-302.9" fill="#ffb900"/>
<polygon points="418.26,198.06 750.48,-301.57 746.38,-304.28" fill="#ffbc00"/>
<polygon points="418.26,198.06 748.38,-302.96 744.3,-305.63" fill="#ffbf00"/>
<polygon points="418.26,198.06 746.31,-304.32 742.24,-306.95" fill="#ffc300"/>
<polygon points="418.26,198.06 744.26,-305.65 740.2,-308.26" fill="#ffc600"/>
<polygon points="418.26,198.06 742.22,-306.96 738.18,-309.53" fill="#ffca00"/>
<polygon points="418.26,198.06 740.21,-308.25 736.18,-310.79" fill="#ffcd00"/>
<polygon points="418.26,198.06 738.22,-309.51 734.21,-312.02" fill="#ffd100"/>
<polygon points="418.26,198.06 736.24,-310.75 732.25,-313.23" fill="#ffd400"/>
<polygon points="418.26,198.06 734.29,-311.97 730.31,-314.41" fill="#ffd700"/>
<polygon points="418.26,198.06 732.36,-313.16 728.39,-315.58" fill="#ffdb00"/>
<polygon points="418.26,198.06 730.44,-314.33 726.49,-316.72" fill="#ffde00"/>
<polygon points="418.26,198.06 728.54,-315.48 724.6,-317.84" fill="#ffe100"/>
<polygon points="418.26,198.06 726.66,-316.61 722.74,-318.95" fill="#ffe400"/>
<polygon points="418.26,198.06 724.81,-317.72 720.89,-320.03" fill="#ffe600"/>
<polygon points="418.26,198.06 722.96,-318.81 719.07,-321.09" fill="#ffe900"/>
<polygon points="418.26,198.06 721.14,-319.88 717.26,-322.13" fill="#ffec00"/>
<polygon points="418.26,198.06 719.34,-320.93 715.47,-323.16" fill="#ffef00"/>
<polygon points="418.26,198.06 717.55,-321.97 713.69,-324.17" fill="#fff100"/>
<polygon points="418.26,198.06 715.78,-322.98 711.94,-325.16" fill="#fff400"/>
<polygon points="418.26,198.06 714.03,-323.98 710.2,-326.13" fill="#fff602"/>
<polygon points="418.26,198.06 712.29,-324.96 708.48,-327.08" fill="#fff709"/>
<polygon points="418.26,198.06 710.58,-325.92 706.77,-328.02" fill="#fff80f"/>
<polygon points="418.26,198.06 708.88,-326.86 705.09,-328.94" fill="#fff916"/>
<polygon points="418.26,198.06 707.19,-327.79 703.42,-329.85" fill="#fffa1c"/>
<polygon points="418.26,198.06 705.52,-328.71 701.76,-330.74" fill="#fffb22"/>
<polygon points="418.26,198.06 703.87,-329.6 700.12,-331.62" fill="#fffc29"/>
<polygon points="418.26,198.06 702.24,-330.48 698.5,-332.48" fill="#fffd2f"/>
<polygon points="418.26,198.06 700.62,-331.35 696.89,-333.32" fill="#fffe36"/>
<polygon points="418.26,198.06 699.02,-332.2 695.3,-334.15" fill="#fffe3c"/>
<polygon points="418.26,198.06 697.43,-333.04 693.73,-334.97" fill="#ffff44"/>
<polygon points="418.26,198.06 695.86,-333.86 692.17,-335.77" fill="#ffff4d"/>
<polygon points="418.26,198.06 694.3,-334.67 690.62,-336.56" fill="#ffff55"/>
<polygon points="418.26,198.06 692.76,-335.47 689.09,-337.34" fill="#ffff5e"/>
<polygon points="418.26,198.06 691.23,-336.25 687.58,-338.1" fill="#ffff67"/>
<polygon points="418.26,198.06 689.72,-337.02 686.07,-338.86" fill="#ffff70"/>
<polygon points="418.26,198.06 688.22,-337.78 684.59,-339.59" fill="#ffff79"/>
<polygon points="418.26,198.06 686.74,-338.52 683.12,-340.32" fill="#ffff82"/>
<polygon points="418.26,198.06 685.27,-339.26 681.66,-341.04" fill="#ffff8b"/>
<polygon points="418.26,198.06 683.81,-339.98 680.21,-341.74" fill="#ffff92"/>
<polygon points="418.26,198.06 682.37,-340.69 678.78,-342.43" fill="#ffff98"/>
<polygon points="418.26,198.06 680.94,-341.38 677.37,-343.11" fill="#ffff9e"/>
<polygon points="418.26,198.06 679.53,-342.07 675.96,-343.78" fill="#ffffa3"/>
<polygon points="418.26,198.06 678.13,-342.75 674.57,-344.44" fill="#ffffa9"/>
<polygon points="418.26,198.06 676.74,-343.41 673.2,-345.09" fill="#ffffaf"/>
<polygon points="418.26,198.06 675.37,-344.06 671.83,-345.73" fill="#ffffb4"/>
<polygon points="418.26,198.06 674,-344.71 670.48,-346.36" fill="#ffffba"/>
<polygon points="418.26,198.06 672.66,-345.34 669.14,-346.97" fill="#ffffbf"/>
<polygon points="418.26,198.06 671.32,-345.97 667.82,-347.58" fill="#ffffc5"/>
<polygon points="418.26,198.06 670,-346.58 666.5,-348.18" fill="#ffffcb"/>
<polygon points="418.26,198.06 668.69,-347.18 665.2,-348.77" fill="#ffffd1"/>
<polygon points="418.26,198.06 667.39,-347.78 663.91,-349.35" fill="#ffffd7"/>
<polygon points="418.26,198.06 666.1,-348.36 662.63,-349.92" fill="#ffffdd"/>
<polygon points="418.26,198.06 664.82,-348.94 661.37,-350.49" fill="#ffffe3"/>
<polygon points="418.26,198.06 663.56,-349.51 660.11,-351.04" fill="#ffffea"/>
<polygon points="418.26,198.06 662.31,-350.07 658.87,-351.58" fill="#fffff0"/>
<polygon points="418.26,198.06 661.07,-350.62 657.64,-352.12" fill="#fffff6"/>
<polygon points="418.26,198.06 659.84,-351.16 656.42,-352.65" fill="#fffffc"/>
<polygon points="418.26,198.06 658.62,-351.69 523.64,-392.62" fill="#ffffff"/>
</g>
<line x1="495.3" y1="22.2" x2="623.7" y2="22.2" stroke="#333" stroke-width="1"/>
<line x1="495.3" y1="22.2" x2="495.3" y2="145.3" stroke="#333" stroke-width="1"/>
<line x1="495.3" y1="145.3" x2="623.7" y2="145.3" stroke="#333" stroke-width="1"/>
<line x1="623.7" y1="22.2" x2="623.7" y2="145.3" stroke="#999" stroke-width="0.7"/>
<line x1="492.3" y1="145.3" x2="495.3" y2="145.3" stroke="#333" stroke-width="1"/>
<line x1="492.3" y1="127.71" x2="495.3" y2="127.71" stroke="#333" stroke-width="1"/>
<line x1="492.3" y1="110.13" x2="495.3" y2="110.13" stroke="#333" stroke-width="1"/>
<line x1="492.3" y1="92.54" x2="495.3" y2="92.54" stroke="#333" stroke-width="1"/>
<line x1="492.3" y1="74.96" x2="495.3" y2="74.96" stroke="#333" stroke-width="1"/>
<line x1="492.3" y1="57.37" x2="495.3" y2="57.37" stroke="#333" stroke-width="1"/>
<line x1="492.3" y1="39.79" x2="495.3" y2="39.79" stroke="#333" stroke-width="1"/>
<line x1="492.3" y1="22.2" x2="495.3" y2="22.2" stroke="#333" stroke-width="1"/>
<line x1="493.5" y1="136.51" x2="495.3" y2="136.51" stroke="#333" stroke-width="1"/>
<line x1="493.5" y1="118.92" x2="495.3" y2="118.92" stroke="#333" stroke-width="1"/>
<line x1="493.5" y1="101.34" x2="495.3" y2="101.34" stroke="#333" stroke-width="1"/>
<line x1="493.5" y1="83.75" x2="495.3" y2="83.75" stroke="#333" stroke-width="1"/>
<line x1="493.5" y1="66.16" x2="495.3" y2="66.16" stroke="#333" stroke-width="1"/>
<line x1="493.5" y1="48.58" x2="495.3" y2="48.58" stroke="#333" stroke-width="1"/>
<line x1="493.5" y1="30.99" x2="495.3" y2="30.99" stroke="#333" stroke-width="1"/>
<text x="490.8" y="148.18" font-size="8.0" fill="#222" text-anchor="end">300</text>
<text x="490.8" y="130.59" font-size="8.0" fill="#222" text-anchor="end">400</text>
<text x="490.8" y="113.01" font-size="8.0" fill="#222" text-anchor="end">500</text>
<text x="490.8" y="95.42" font-size="8.0" fill="#222" text-anchor="end">600</text>
<text x="490.8" y="77.84" font-size="8.0" fill="#222" text-anchor="end">700</text>
<text x="490.8" y="60.25" font-size="8.0" fill="#222" text-anchor="end">800</text>
<text x="490.8" y="42.67" font-size="8.0" fill="#222" text-anchor="end">900</text>
<text x="490.8" y="25.08" font-size="8.0" fill="#222" text-anchor="end">1000</text>
<line x1="495.3" y1="145.3" x2="495.3" y2="147.8" stroke="#333" stroke-width="1"/>
<line x1="520.98" y1="145.3" x2="520.98" y2="147.8" stroke="#333" stroke-width="1"/>
<line x1="546.66" y1="145.3" x2="546.66" y2="147.8" stroke="#333" stroke-width="1"/>
<line x1="572.34" y1="145.3" x2="572.34" y2="147.8" stroke="#333" stroke-width="1"/>
<line x1="598.02" y1="145.3" x2="598.02" y2="147.8" stroke="#333" stroke-width="1"/>
<line x1="623.7" y1="145.3" x2="623.7" y2="147.8" stroke="#333" stroke-width="1"/>
<line x1="508.14" y1="145.3" x2="508.14" y2="146.8" stroke="#333" stroke-width="1"/>
<line x1="533.82" y1="145.3" x2="533.82" y2="146.8" stroke="#333" stroke-width="1"/>
<line x1="559.5" y1="145.3" x2="559.5" y2="146.8" stroke="#333" stroke-width="1"/>
<line x1="585.18" y1="145.3" x2="585.18" y2="146.8" stroke="#333" stroke-width="1"/>
<line x1="610.86" y1="145.3" x2="610.86" y2="146.8" stroke="#333" stroke-width="1"/>
<text x="495.3" y="155.4" font-size="8.0" fill="#222" text-anchor="middle">1.5</text>
<text x="520.98" y="155.4" font-size="8.0" fill="#222" text-anchor="middle">2.0</text>
<text x="546.66" y="155.4" font-size="8.0" fill="#222" text-anchor="middle">2.5</text>
<text x="572.34" y="155.4" font-size="8.0" fill="#222" text-anchor="middle">3.0</text>
<text x="598.02" y="155.4" font-size="8.0" fill="#222" text-anchor="middle">3.5</text>
<text x="623.7" y="155.4" font-size="8.0" fill="#222" text-anchor="middle">4.0</text>
<text x="473.2" y="84" font-size="10.6" fill="#222" text-anchor="middle" transform="rotate(-90 473.2 84)">Wavelength (nm)</text>
<text x="518" y="166.9" font-size="10.3" fill="#222">Refractive Index <tspan font-style="italic">n</tspan></text>
<text x="553" y="16.1" font-size="10.5" fill="#222">Active Layer Thickness (nm)</text>
<text x="577.2" y="32.7" font-size="8.2" fill="#fff2e6" text-anchor="middle">Destructive Interference</text>
<text x="573.0" y="42.1" font-size="8.2" fill="#fff2e6" text-anchor="middle" font-style="italic">d<tspan font-style="normal"> = </tspan>λ<tspan font-style="normal">/4</tspan>n</text>
<defs><linearGradient id="cbg" x1="0" y1="0" x2="0" y2="1"><stop offset="0" stop-color="#ffffff"/><stop offset="0.05" stop-color="#ffffd4"/><stop offset="0.11" stop-color="#ffff9b"/><stop offset="0.18" stop-color="#ffff49"/><stop offset="0.25" stop-color="#fff706"/><stop offset="0.31" stop-color="#ffdd00"/><stop offset="0.38" stop-color="#ffbb00"/><stop offset="0.44" stop-color="#ff9d00"/><stop offset="0.51" stop-color="#ff7c00"/><stop offset="0.58" stop-color="#ff5500"/><stop offset="0.64" stop-color="#ff3100"/><stop offset="0.71" stop-color="#fb1100"/><stop offset="0.77" stop-color="#e40100"/><stop offset="0.84" stop-color="#b70000"/><stop offset="0.91" stop-color="#800000"/><stop offset="0.97" stop-color="#460101"/><stop offset="1" stop-color="#2e0202"/></linearGradient></defs>
<rect x="628.4" y="22.2" width="10.1" height="123.3" fill="url(#cbg)" stroke="#333" stroke-width="0.8"/>
<line x1="638.5" y1="22.8" x2="641.2" y2="22.8" stroke="#333" stroke-width="0.9"/>
<text x="644.6" y="24.9" font-size="7.9" fill="#222">167.0</text>
<line x1="638.5" y1="38.09" x2="641.2" y2="38.09" stroke="#333" stroke-width="0.9"/>
<text x="644.6" y="40.19" font-size="7.9" fill="#222">148.1</text>
<line x1="638.5" y1="53.38" x2="641.2" y2="53.38" stroke="#333" stroke-width="0.9"/>
<text x="644.6" y="55.48" font-size="7.9" fill="#222">129.3</text>
<line x1="638.5" y1="68.66" x2="641.2" y2="68.66" stroke="#333" stroke-width="0.9"/>
<text x="644.6" y="70.76" font-size="7.9" fill="#222">110.4</text>
<line x1="638.5" y1="83.95" x2="641.2" y2="83.95" stroke="#333" stroke-width="0.9"/>
<text x="644.6" y="86.05" font-size="7.9" fill="#222">91.50</text>
<line x1="638.5" y1="99.24" x2="641.2" y2="99.24" stroke="#333" stroke-width="0.9"/>
<text x="644.6" y="101.34" font-size="7.9" fill="#222">72.63</text>
<line x1="638.5" y1="114.52" x2="641.2" y2="114.52" stroke="#333" stroke-width="0.9"/>
<text x="644.6" y="116.62" font-size="7.9" fill="#222">53.75</text>
<line x1="638.5" y1="129.81" x2="641.2" y2="129.81" stroke="#333" stroke-width="0.9"/>
<text x="644.6" y="131.91" font-size="7.9" fill="#222">34.88</text>
<line x1="638.5" y1="145.1" x2="641.2" y2="145.1" stroke="#333" stroke-width="0.9"/>
<text x="644.6" y="147.2" font-size="7.9" fill="#222">16.00</text>
<text x="4" y="198.9" font-size="14.0" fill="#000" stroke="#000" stroke-width="0.3">d</text>
<path d="M51.2,249 C52.83,249.62 58.15,251.85 61,252.7 C63.85,253.55 65.72,253.87 68.3,254.1 C70.88,254.33 73.9,254.33 76.5,254.1 C79.1,253.87 81.92,253.03 83.9,252.7 C85.88,252.37 86.88,252.72 88.4,252.1 C89.92,251.48 91.62,250.03 93,249 C94.38,247.97 95.32,246.82 96.7,245.9 C98.08,244.98 99.93,244.67 101.3,243.5 C102.67,242.33 103.53,241.03 104.9,238.9 C106.27,236.77 108.28,232.52 109.5,230.7 C110.72,228.88 111.13,228.15 112.2,228 C113.27,227.85 114.67,228.93 115.9,229.8 C117.13,230.67 118.27,232.47 119.6,233.2 C120.93,233.93 122.22,234.35 123.9,234.2 C125.58,234.05 127.57,232.95 129.7,232.3 C131.83,231.65 134.77,231.5 136.7,230.3 C138.63,229.1 139.77,227.6 141.3,225.1 C142.83,222.6 144.35,218.38 145.9,215.3 C147.45,212.22 149.05,208.92 150.6,206.6 C152.15,204.28 153.67,202.47 155.2,201.4 C156.73,200.33 158.07,200.1 159.8,200.2 C161.53,200.3 163.47,200.93 165.6,202 C167.73,203.07 170.32,204.68 172.6,206.6 C174.88,208.52 178.18,212.35 179.3,213.5" fill="none" stroke="#ff8000" stroke-width="1.3" stroke-linejoin="round" stroke-linecap="round"/>
<path d="M51.2,248.3 C51.92,248.63 53.87,249.6 55.5,250.3 C57.13,251 59.17,252.02 61,252.5 C62.83,252.98 64.82,253.08 66.5,253.2 C68.18,253.32 69.73,253.6 71.1,253.2 C72.47,252.8 73.33,251.4 74.7,250.8 C76.07,250.2 77.92,250.35 79.3,249.6 C80.68,248.85 81.93,247.62 83,246.3 C84.07,244.98 84.8,242.98 85.7,241.7 C86.6,240.42 87.33,239.37 88.4,238.6 C89.47,237.83 91.02,238.12 92.1,237.1 C93.18,236.08 93.98,234.93 94.9,232.5 C95.82,230.07 96.7,225.45 97.6,222.5 C98.5,219.55 99.48,216.33 100.3,214.8 C101.12,213.27 101.73,213.25 102.5,213.3 C103.27,213.35 103.88,213.73 104.9,215.1 C105.92,216.47 107.22,219.2 108.6,221.5 C109.98,223.8 111.62,226.75 113.2,228.9 C114.78,231.05 116.7,233.77 118.1,234.4 C119.5,235.03 120.05,233.77 121.6,232.7 C123.15,231.63 125.28,229.65 127.4,228 C129.52,226.35 132.18,224.82 134.3,222.8 C136.42,220.78 138.35,218.22 140.1,215.9 C141.85,213.58 143.25,210.93 144.8,208.9 C146.35,206.87 147.67,204.95 149.4,203.7 C151.13,202.45 153.27,201.5 155.2,201.4 C157.13,201.3 158.88,202.13 161,203.1 C163.12,204.07 165.58,205.75 167.9,207.2 C170.22,208.65 173,210.45 174.9,211.8 C176.8,213.15 178.57,214.72 179.3,215.3" fill="none" stroke="#8000ff" stroke-width="1.3" stroke-linejoin="round" stroke-linecap="round"/>
<rect x="51.2" y="196.4" width="128.1" height="68.9" fill="none" stroke="#333" stroke-width="1"/>
<line x1="49" y1="265.3" x2="51.2" y2="265.3" stroke="#333" stroke-width="1"/>
<line x1="49" y1="248.08" x2="51.2" y2="248.08" stroke="#333" stroke-width="1"/>
<line x1="49" y1="230.85" x2="51.2" y2="230.85" stroke="#333" stroke-width="1"/>
<line x1="49" y1="213.62" x2="51.2" y2="213.62" stroke="#333" stroke-width="1"/>
<line x1="49" y1="196.4" x2="51.2" y2="196.4" stroke="#333" stroke-width="1"/>
<line x1="49.9" y1="256.69" x2="51.2" y2="256.69" stroke="#333" stroke-width="1"/>
<line x1="49.9" y1="239.46" x2="51.2" y2="239.46" stroke="#333" stroke-width="1"/>
<line x1="49.9" y1="222.24" x2="51.2" y2="222.24" stroke="#333" stroke-width="1"/>
<line x1="49.9" y1="205.01" x2="51.2" y2="205.01" stroke="#333" stroke-width="1"/>
<text x="47.9" y="268.25" font-size="8.2" fill="#222" text-anchor="end">1.0</text>
<text x="47.9" y="251.03" font-size="8.2" fill="#222" text-anchor="end">1.5</text>
<text x="47.9" y="233.8" font-size="8.2" fill="#222" text-anchor="end">2.0</text>
<text x="47.9" y="216.58" font-size="8.2" fill="#222" text-anchor="end">2.5</text>
<text x="47.9" y="199.35" font-size="8.2" fill="#222" text-anchor="end">3.0</text>
<line x1="51.2" y1="265.3" x2="51.2" y2="267.5" stroke="#333" stroke-width="1"/>
<line x1="76.82" y1="265.3" x2="76.82" y2="267.5" stroke="#333" stroke-width="1"/>
<line x1="102.44" y1="265.3" x2="102.44" y2="267.5" stroke="#333" stroke-width="1"/>
<line x1="128.06" y1="265.3" x2="128.06" y2="267.5" stroke="#333" stroke-width="1"/>
<line x1="153.68" y1="265.3" x2="153.68" y2="267.5" stroke="#333" stroke-width="1"/>
<line x1="179.3" y1="265.3" x2="179.3" y2="267.5" stroke="#333" stroke-width="1"/>
<line x1="64.01" y1="265.3" x2="64.01" y2="266.6" stroke="#333" stroke-width="1"/>
<line x1="89.63" y1="265.3" x2="89.63" y2="266.6" stroke="#333" stroke-width="1"/>
<line x1="115.25" y1="265.3" x2="115.25" y2="266.6" stroke="#333" stroke-width="1"/>
<line x1="140.87" y1="265.3" x2="140.87" y2="266.6" stroke="#333" stroke-width="1"/>
<line x1="166.49" y1="265.3" x2="166.49" y2="266.6" stroke="#333" stroke-width="1"/>
<text x="51.2" y="275.4" font-size="8.2" fill="#222" text-anchor="middle">400</text>
<text x="76.82" y="275.4" font-size="8.2" fill="#222" text-anchor="middle">500</text>
<text x="102.44" y="275.4" font-size="8.2" fill="#222" text-anchor="middle">600</text>
<text x="128.06" y="275.4" font-size="8.2" fill="#222" text-anchor="middle">700</text>
<text x="153.68" y="275.4" font-size="8.2" fill="#222" text-anchor="middle">800</text>
<text x="179.3" y="275.4" font-size="8.2" fill="#222" text-anchor="middle">900</text>
<text x="33.0" y="235.2" font-size="10.5" fill="#222" text-anchor="middle" transform="rotate(-90 33 235.2)">Refractive Index <tspan font-style="italic">n</tspan></text>
<text x="115.3" y="284.5" font-size="10.8" fill="#222" text-anchor="middle">Wavelength (nm)</text>
<line x1="116.1" y1="247.5" x2="127.9" y2="247.5" stroke="#ff8000" stroke-width="1.3"/>
<line x1="116.1" y1="258.4" x2="127.9" y2="258.4" stroke="#8000ff" stroke-width="1.3"/>
<text x="131" y="249.9" font-size="8.3" fill="#222">PM6:L8-BO</text>
<text x="131" y="260.6" font-size="8.3" fill="#222">D18:N3</text>
<text x="3.2" y="292.8" font-size="13.2" fill="#000" stroke="#000" stroke-width="0.6">e</text>
<path d="M51.3,347.2 C52.15,346.35 54.47,344.13 56.4,342.1 C58.33,340.07 60.75,337.37 62.9,335 C65.05,332.63 67.15,329.77 69.3,327.9 C71.45,326.03 73.65,324.7 75.8,323.8 C77.95,322.9 80.17,323.15 82.2,322.5 C84.23,321.85 86.28,319.87 88,319.9 C89.72,319.93 91.1,321.68 92.5,322.7 C93.9,323.72 95,325.25 96.4,326 C97.8,326.75 99.62,326.35 100.9,327.2 C102.18,328.05 102.92,329.37 104.1,331.1 C105.28,332.83 106.82,336.03 108,337.6 C109.18,339.17 110.12,340.5 111.2,340.5 C112.28,340.5 113.32,338.85 114.5,337.6 C115.68,336.35 116.9,334.62 118.3,333 C119.7,331.38 121.07,328.87 122.9,327.9 C124.73,326.93 127.15,327.52 129.3,327.2 C131.45,326.88 134.07,325.88 135.8,326 C137.53,326.12 138.42,326.52 139.7,327.9 C140.98,329.28 142,331.93 143.5,334.3 C145,336.67 146.98,340.22 148.7,342.1 C150.42,343.98 152.3,345 153.8,345.6 C155.3,346.2 155.98,346.07 157.7,345.7 C159.42,345.33 161.73,344.87 164.1,343.4 C166.47,341.93 169.37,339.4 171.9,336.9 C174.43,334.4 178.07,329.82 179.3,328.4" fill="none" stroke="#ff8000" stroke-width="1.3" stroke-linejoin="round" stroke-linecap="round"/>
<path d="M51.3,348.3 C52.15,347.37 54.47,344.82 56.4,342.7 C58.33,340.58 61.17,337.32 62.9,335.6 C64.63,333.88 65.52,333.4 66.8,332.4 C68.08,331.4 69.1,329.85 70.6,329.6 C72.1,329.35 74.18,330.93 75.8,330.9 C77.42,330.87 79.02,328.83 80.3,329.4 C81.58,329.97 82.32,332.52 83.5,334.3 C84.68,336.08 86.1,339.23 87.4,340.1 C88.7,340.97 90.12,338.95 91.3,339.5 C92.48,340.05 93.33,341.37 94.5,343.4 C95.67,345.43 97.12,349.73 98.3,351.7 C99.48,353.67 100.42,355.08 101.6,355.2 C102.78,355.32 104.12,353.95 105.4,352.4 C106.68,350.85 107.88,348.48 109.3,345.9 C110.72,343.32 112.5,339.37 113.9,336.9 C115.3,334.43 116.63,332.22 117.7,331.1 C118.77,329.98 118.78,329.77 120.3,330.2 C121.82,330.63 124.65,332.9 126.8,333.7 C128.95,334.5 131.27,334.35 133.2,335 C135.13,335.65 136.68,336.42 138.4,337.6 C140.12,338.78 141.78,340.88 143.5,342.1 C145.22,343.32 146.98,344.32 148.7,344.9 C150.42,345.48 151.65,346.07 153.8,345.6 C155.95,345.13 158.8,343.77 161.6,342.1 C164.4,340.43 167.65,338.18 170.6,335.6 C173.55,333.02 177.85,328.1 179.3,326.6" fill="none" stroke="#8000ff" stroke-width="1.3" stroke-linejoin="round" stroke-linecap="round"/>
<rect x="51.2" y="295.2" width="128.1" height="69.2" fill="none" stroke="#333" stroke-width="1"/>
<line x1="49" y1="364.4" x2="51.2" y2="364.4" stroke="#333" stroke-width="1"/>
<line x1="49" y1="341.33" x2="51.2" y2="341.33" stroke="#333" stroke-width="1"/>
<line x1="49" y1="318.27" x2="51.2" y2="318.27" stroke="#333" stroke-width="1"/>
<line x1="49" y1="295.2" x2="51.2" y2="295.2" stroke="#333" stroke-width="1"/>
<line x1="49.9" y1="352.87" x2="51.2" y2="352.87" stroke="#333" stroke-width="1"/>
<line x1="49.9" y1="329.8" x2="51.2" y2="329.8" stroke="#333" stroke-width="1"/>
<line x1="49.9" y1="306.73" x2="51.2" y2="306.73" stroke="#333" stroke-width="1"/>
<text x="47.8" y="367.35" font-size="8.2" fill="#222" text-anchor="end">50</text>
<text x="47.8" y="344.29" font-size="8.2" fill="#222" text-anchor="end">75</text>
<text x="47.8" y="321.22" font-size="8.2" fill="#222" text-anchor="end">100</text>
<text x="47.8" y="298.15" font-size="8.2" fill="#222" text-anchor="end">125</text>
<line x1="51.2" y1="364.4" x2="51.2" y2="366.6" stroke="#333" stroke-width="1"/>
<line x1="76.82" y1="364.4" x2="76.82" y2="366.6" stroke="#333" stroke-width="1"/>
<line x1="102.44" y1="364.4" x2="102.44" y2="366.6" stroke="#333" stroke-width="1"/>
<line x1="128.06" y1="364.4" x2="128.06" y2="366.6" stroke="#333" stroke-width="1"/>
<line x1="153.68" y1="364.4" x2="153.68" y2="366.6" stroke="#333" stroke-width="1"/>
<line x1="179.3" y1="364.4" x2="179.3" y2="366.6" stroke="#333" stroke-width="1"/>
<line x1="64.01" y1="364.4" x2="64.01" y2="365.7" stroke="#333" stroke-width="1"/>
<line x1="89.63" y1="364.4" x2="89.63" y2="365.7" stroke="#333" stroke-width="1"/>
<line x1="115.25" y1="364.4" x2="115.25" y2="365.7" stroke="#333" stroke-width="1"/>
<line x1="140.87" y1="364.4" x2="140.87" y2="365.7" stroke="#333" stroke-width="1"/>
<line x1="166.49" y1="364.4" x2="166.49" y2="365.7" stroke="#333" stroke-width="1"/>
<text x="51.2" y="374.2" font-size="8.2" fill="#222" text-anchor="middle">400</text>
<text x="76.82" y="374.2" font-size="8.2" fill="#222" text-anchor="middle">500</text>
<text x="102.44" y="374.2" font-size="8.2" fill="#222" text-anchor="middle">600</text>
<text x="128.06" y="374.2" font-size="8.2" fill="#222" text-anchor="middle">700</text>
<text x="153.68" y="374.2" font-size="8.2" fill="#222" text-anchor="middle">800</text>
<text x="179.3" y="374.2" font-size="8.2" fill="#222" text-anchor="middle">900</text>
<text x="31.8" y="333.4" font-size="10.6" fill="#222" text-anchor="middle" transform="rotate(-90 31.8 333.4)">Thickness (nm)</text>
<text x="115.3" y="386" font-size="10.8" fill="#222" text-anchor="middle">Wavelength (nm)</text>
<text x="54.6" y="305" font-size="8.6" fill="#222">Destructive interference</text>
<text x="54.6" y="315.8" font-size="8.8" fill="#ff1f1f" font-style="italic">d<tspan font-style="normal"> = </tspan>λ<tspan font-style="normal">/4</tspan>n</text>
<line x1="120.3" y1="312" x2="132.2" y2="312" stroke="#ff8000" stroke-width="1.3"/>
<line x1="120.3" y1="321.4" x2="132.2" y2="321.4" stroke="#8000ff" stroke-width="1.3"/>
<text x="134.7" y="314.4" font-size="7.8" fill="#222">PM6:L8-BO</text>
<text x="134.7" y="323.9" font-size="7.8" fill="#222">D18:N3</text>
<text x="230.2" y="207.3" font-size="14.0" fill="#000" stroke="#000" stroke-width="0.4">f</text>
<path d="M261.3,325.17 C264.13,315.53 272.64,281.38 278.31,267.32 C283.98,253.26 289.65,246.03 295.32,240.8 C300.99,235.58 306.66,235.45 312.33,235.98 C318,236.52 323.67,239.86 329.34,244.02 C335.01,248.17 340.68,255.13 346.35,260.89 C352.02,266.65 357.69,273.08 363.36,278.57 C369.03,284.06 374.7,289.15 380.37,293.84 C386.04,298.52 391.71,303.48 397.38,306.69 C403.05,309.91 408.72,311.78 414.39,313.12 C420.06,314.46 428.56,314.46 431.4,314.73" fill="none" stroke="#1e9cff" stroke-width="1.05" stroke-linejoin="round" stroke-linecap="round"/>
<circle cx="261.3" cy="325.17" r="1.65" fill="#1e9cff"/>
<circle cx="278.31" cy="267.32" r="1.65" fill="#1e9cff"/>
<circle cx="295.32" cy="240.8" r="1.65" fill="#1e9cff"/>
<circle cx="312.33" cy="235.98" r="1.65" fill="#1e9cff"/>
<circle cx="329.34" cy="244.02" r="1.65" fill="#1e9cff"/>
<circle cx="346.35" cy="260.89" r="1.65" fill="#1e9cff"/>
<circle cx="363.36" cy="278.57" r="1.65" fill="#1e9cff"/>
<circle cx="380.37" cy="293.84" r="1.65" fill="#1e9cff"/>
<circle cx="397.38" cy="306.69" r="1.65" fill="#1e9cff"/>
<circle cx="414.39" cy="313.12" r="1.65" fill="#1e9cff"/>
<circle cx="431.4" cy="314.73" r="1.65" fill="#1e9cff"/>
<path d="M261.3,309.1 C264.13,300.53 272.64,269.86 278.31,257.68 C283.98,245.49 289.65,240 295.32,235.98 C300.99,231.96 306.66,232.37 312.33,233.57 C318,234.78 323.67,238.79 329.34,243.21 C335.01,247.63 340.68,254.33 346.35,260.09 C352.02,265.85 357.69,272.41 363.36,277.76 C369.03,283.12 374.7,287.67 380.37,292.23 C386.04,296.78 391.71,301.74 397.38,305.08 C403.05,308.43 408.72,310.84 414.39,312.32 C420.06,313.79 428.56,313.66 431.4,313.92" fill="none" stroke="#ff8000" stroke-width="1.05" stroke-linejoin="round" stroke-linecap="round"/>
<rect x="259.65" y="307.45" width="3.3" height="3.3" fill="#ff8000"/>
<rect x="276.66" y="256.03" width="3.3" height="3.3" fill="#ff8000"/>
<rect x="293.67" y="234.33" width="3.3" height="3.3" fill="#ff8000"/>
<rect x="310.68" y="231.92" width="3.3" height="3.3" fill="#ff8000"/>
<rect x="327.69" y="241.56" width="3.3" height="3.3" fill="#ff8000"/>
<rect x="344.7" y="258.44" width="3.3" height="3.3" fill="#ff8000"/>
<rect x="361.71" y="276.11" width="3.3" height="3.3" fill="#ff8000"/>
<rect x="378.72" y="290.58" width="3.3" height="3.3" fill="#ff8000"/>
<rect x="395.73" y="303.43" width="3.3" height="3.3" fill="#ff8000"/>
<rect x="412.74" y="310.67" width="3.3" height="3.3" fill="#ff8000"/>
<rect x="429.75" y="312.27" width="3.3" height="3.3" fill="#ff8000"/>
<path d="M261.3,293.84 C264.13,286.87 272.64,261.29 278.31,252.05 C283.98,242.81 289.65,240.13 295.32,238.39 C300.99,236.65 306.66,238.93 312.33,241.61 C318,244.28 323.67,249.64 329.34,254.46 C335.01,259.28 340.68,265.18 346.35,270.53 C352.02,275.89 357.69,281.65 363.36,286.6 C369.03,291.56 374.7,296.51 380.37,300.26 C386.04,304.01 391.71,306.96 397.38,309.1 C403.05,311.25 408.72,312.45 414.39,313.12 C420.06,313.79 428.56,313.12 431.4,313.12" fill="none" stroke="#ff2a90" stroke-width="1.05" stroke-linejoin="round" stroke-linecap="round"/>
<polygon points="261.3,292.05 259.65,295.17 262.95,295.17" fill="#ff2a90"/>
<polygon points="278.31,250.27 276.66,253.39 279.96,253.39" fill="#ff2a90"/>
<polygon points="295.32,236.61 293.67,239.73 296.97,239.73" fill="#ff2a90"/>
<polygon points="312.33,239.82 310.68,242.94 313.98,242.94" fill="#ff2a90"/>
<polygon points="329.34,252.68 327.69,255.8 330.99,255.8" fill="#ff2a90"/>
<polygon points="346.35,268.75 344.7,271.87 348,271.87" fill="#ff2a90"/>
<polygon points="363.36,284.82 361.71,287.94 365.01,287.94" fill="#ff2a90"/>
<polygon points="380.37,298.48 378.72,301.6 382.02,301.6" fill="#ff2a90"/>
<polygon points="397.38,307.32 395.73,310.44 399.03,310.44" fill="#ff2a90"/>
<polygon points="414.39,311.34 412.74,314.46 416.04,314.46" fill="#ff2a90"/>
<polygon points="431.4,311.34 429.75,314.46 433.05,314.46" fill="#ff2a90"/>
<path d="M261.3,299.46 C264.13,291.69 272.64,263.57 278.31,252.86 C283.98,242.14 289.65,237.99 295.32,235.18 C300.99,232.37 306.66,233.84 312.33,235.98 C318,238.12 323.67,243.21 329.34,248.03 C335.01,252.86 340.68,259.28 346.35,264.91 C352.02,270.53 357.69,276.56 363.36,281.78 C369.03,287.01 374.7,291.96 380.37,296.25 C386.04,300.53 391.71,304.95 397.38,307.5 C403.05,310.04 408.72,310.84 414.39,311.51 C420.06,312.18 428.56,311.51 431.4,311.51" fill="none" stroke="#8000ff" stroke-width="1.05" stroke-linejoin="round" stroke-linecap="round"/>
<polygon points="261.3,301.24 259.65,298.12 262.95,298.12" fill="#8000ff"/>
<polygon points="278.31,254.64 276.66,251.52 279.96,251.52" fill="#8000ff"/>
<polygon points="295.32,236.96 293.67,233.84 296.97,233.84" fill="#8000ff"/>
<polygon points="312.33,237.76 310.68,234.64 313.98,234.64" fill="#8000ff"/>
<polygon points="329.34,249.82 327.69,246.7 330.99,246.7" fill="#8000ff"/>
<polygon points="346.35,266.69 344.7,263.57 348,263.57" fill="#8000ff"/>
<polygon points="363.36,283.56 361.71,280.45 365.01,280.45" fill="#8000ff"/>
<polygon points="380.37,298.03 378.72,294.91 382.02,294.91" fill="#8000ff"/>
<polygon points="397.38,309.28 395.73,306.16 399.03,306.16" fill="#8000ff"/>
<polygon points="414.39,313.29 412.74,310.18 416.04,310.18" fill="#8000ff"/>
<polygon points="431.4,313.29 429.75,310.18 433.05,310.18" fill="#8000ff"/>
<rect x="261.3" y="217.5" width="170.1" height="136.6" fill="none" stroke="#555" stroke-width="1.2"/>
<line x1="258.8" y1="346.06" x2="261.3" y2="346.06" stroke="#555" stroke-width="1.1"/>
<line x1="258.8" y1="329.99" x2="261.3" y2="329.99" stroke="#555" stroke-width="1.1"/>
<line x1="258.8" y1="313.92" x2="261.3" y2="313.92" stroke="#555" stroke-width="1.1"/>
<line x1="258.8" y1="297.85" x2="261.3" y2="297.85" stroke="#555" stroke-width="1.1"/>
<line x1="258.8" y1="281.78" x2="261.3" y2="281.78" stroke="#555" stroke-width="1.1"/>
<line x1="258.8" y1="265.71" x2="261.3" y2="265.71" stroke="#555" stroke-width="1.1"/>
<line x1="258.8" y1="249.64" x2="261.3" y2="249.64" stroke="#555" stroke-width="1.1"/>
<line x1="258.8" y1="233.57" x2="261.3" y2="233.57" stroke="#555" stroke-width="1.1"/>
<line x1="258.8" y1="217.5" x2="261.3" y2="217.5" stroke="#555" stroke-width="1.1"/>
<line x1="259.8" y1="338.03" x2="261.3" y2="338.03" stroke="#555" stroke-width="1.1"/>
<line x1="259.8" y1="321.96" x2="261.3" y2="321.96" stroke="#555" stroke-width="1.1"/>
<line x1="259.8" y1="305.89" x2="261.3" y2="305.89" stroke="#555" stroke-width="1.1"/>
<line x1="259.8" y1="289.82" x2="261.3" y2="289.82" stroke="#555" stroke-width="1.1"/>
<line x1="259.8" y1="273.75" x2="261.3" y2="273.75" stroke="#555" stroke-width="1.1"/>
<line x1="259.8" y1="257.68" x2="261.3" y2="257.68" stroke="#555" stroke-width="1.1"/>
<line x1="259.8" y1="241.61" x2="261.3" y2="241.61" stroke="#555" stroke-width="1.1"/>
<line x1="259.8" y1="225.54" x2="261.3" y2="225.54" stroke="#555" stroke-width="1.1"/>
<text x="257" y="349.3" font-size="9.0" fill="#222" text-anchor="end">0.86</text>
<text x="257" y="333.23" font-size="9.0" fill="#222" text-anchor="end">0.88</text>
<text x="257" y="317.16" font-size="9.0" fill="#222" text-anchor="end">0.90</text>
<text x="257" y="301.09" font-size="9.0" fill="#222" text-anchor="end">0.92</text>
<text x="257" y="285.02" font-size="9.0" fill="#222" text-anchor="end">0.94</text>
<text x="257" y="268.95" font-size="9.0" fill="#222" text-anchor="end">0.96</text>
<text x="257" y="252.88" font-size="9.0" fill="#222" text-anchor="end">0.98</text>
<text x="257" y="236.81" font-size="9.0" fill="#222" text-anchor="end">1.00</text>
<text x="257" y="220.74" font-size="9.0" fill="#222" text-anchor="end">1.02</text>
<line x1="278.31" y1="354.1" x2="278.31" y2="356.6" stroke="#555" stroke-width="1.1"/>
<line x1="312.33" y1="354.1" x2="312.33" y2="356.6" stroke="#555" stroke-width="1.1"/>
<line x1="346.35" y1="354.1" x2="346.35" y2="356.6" stroke="#555" stroke-width="1.1"/>
<line x1="380.37" y1="354.1" x2="380.37" y2="356.6" stroke="#555" stroke-width="1.1"/>
<line x1="414.39" y1="354.1" x2="414.39" y2="356.6" stroke="#555" stroke-width="1.1"/>
<line x1="261.3" y1="354.1" x2="261.3" y2="355.6" stroke="#555" stroke-width="1.1"/>
<line x1="295.32" y1="354.1" x2="295.32" y2="355.6" stroke="#555" stroke-width="1.1"/>
<line x1="329.34" y1="354.1" x2="329.34" y2="355.6" stroke="#555" stroke-width="1.1"/>
<line x1="363.36" y1="354.1" x2="363.36" y2="355.6" stroke="#555" stroke-width="1.1"/>
<line x1="397.38" y1="354.1" x2="397.38" y2="355.6" stroke="#555" stroke-width="1.1"/>
<line x1="431.4" y1="354.1" x2="431.4" y2="355.6" stroke="#555" stroke-width="1.1"/>
<text x="278.31" y="366.1" font-size="8.8" fill="#222" text-anchor="middle">60</text>
<text x="312.33" y="366.1" font-size="8.8" fill="#222" text-anchor="middle">80</text>
<text x="346.35" y="366.1" font-size="8.8" fill="#222" text-anchor="middle">100</text>
<text x="380.37" y="366.1" font-size="8.8" fill="#222" text-anchor="middle">120</text>
<text x="414.39" y="366.1" font-size="8.8" fill="#222" text-anchor="middle">140</text>
<text x="233.2" y="285.2" font-size="11.6" fill="#222" text-anchor="middle" transform="rotate(-90 233.2 285.2)">Norm. Abs<tspan font-size="7.5" dy="3.3">AM1.5G</tspan></text>
<text x="346.4" y="379" font-size="11.5" fill="#222" text-anchor="middle">Active layer thickness (nm)</text>
<text x="273.8" y="336.8" font-size="10.0" fill="#ff1f1f">PM6:Y6</text>
<text x="273.8" y="348.9" font-size="10.2" fill="#ff1f1f">Simulated <tspan font-style="italic">k</tspan>-dependent Abs<tspan font-size="7.3" dy="3.3">AM1.5G</tspan></text>
<line x1="370.1" y1="228.5" x2="386.3" y2="228.5" stroke="#1e9cff" stroke-width="1.05"/>
<circle cx="378.2" cy="228.5" r="1.95" fill="#1e9cff"/>
<text x="389.4" y="232" font-size="10.4" fill="#222">80% <tspan font-style="italic">k</tspan></text>
<line x1="370.1" y1="241" x2="386.3" y2="241" stroke="#ff8000" stroke-width="1.05"/>
<rect x="376.25" y="239.05" width="3.9" height="3.9" fill="#ff8000"/>
<text x="389.4" y="244.5" font-size="10.4" fill="#222">90% <tspan font-style="italic">k</tspan></text>
<line x1="370.1" y1="253.5" x2="386.3" y2="253.5" stroke="#ff2a90" stroke-width="1.05"/>
<polygon points="378.2,251.39 376.25,255.08 380.15,255.08" fill="#ff2a90"/>
<text x="389.4" y="257" font-size="10.4" fill="#222">110% <tspan font-style="italic">k</tspan></text>
<line x1="370.1" y1="266" x2="386.3" y2="266" stroke="#8000ff" stroke-width="1.05"/>
<polygon points="378.2,268.11 376.25,264.42 380.15,264.42" fill="#8000ff"/>
<text x="389.4" y="269.5" font-size="10.4" fill="#222">100% <tspan font-style="italic">k</tspan></text>
<text x="450.4" y="206.6" font-size="13.5" fill="#000" stroke="#000" stroke-width="0.6">g</text>
<clipPath id="gc"><rect x="483.4" y="217.6" width="169" height="136.6"/></clipPath>
<g clip-path="url(#gc)">
<path d="M483.4,376.06 C484.81,372.41 489.03,362.12 491.85,354.2 C494.67,346.28 496.07,338.35 500.3,328.52 C504.52,318.68 511.57,304.48 517.2,295.19 C522.83,285.9 528.47,278.52 534.1,272.79 C539.73,267.05 545.37,263.59 551,260.77 C556.63,257.94 562.27,256.76 567.9,255.85 C573.53,254.94 579.17,254.57 584.8,255.3 C590.43,256.03 596.07,258.4 601.7,260.22 C607.33,262.04 612.97,264.04 618.6,266.23 C624.23,268.42 629.87,270.97 635.5,273.33 C641.13,275.7 649.58,279.25 652.4,280.44" fill="none" stroke="#1e9cff" stroke-width="1.05" stroke-linejoin="round" stroke-linecap="round"/>
</g>
<rect x="498.65" y="326.87" width="3.3" height="3.3" fill="#1e9cff"/>
<rect x="515.55" y="293.54" width="3.3" height="3.3" fill="#1e9cff"/>
<rect x="532.45" y="271.14" width="3.3" height="3.3" fill="#1e9cff"/>
<rect x="549.35" y="259.12" width="3.3" height="3.3" fill="#1e9cff"/>
<rect x="566.25" y="254.2" width="3.3" height="3.3" fill="#1e9cff"/>
<rect x="583.15" y="253.65" width="3.3" height="3.3" fill="#1e9cff"/>
<rect x="600.05" y="258.57" width="3.3" height="3.3" fill="#1e9cff"/>
<rect x="616.95" y="264.58" width="3.3" height="3.3" fill="#1e9cff"/>
<rect x="633.85" y="271.68" width="3.3" height="3.3" fill="#1e9cff"/>
<rect x="650.75" y="278.79" width="3.3" height="3.3" fill="#1e9cff"/>
<g clip-path="url(#gc)">
<path d="M483.4,327.43 C486.22,320.69 494.67,298.1 500.3,286.99 C505.93,275.88 511.57,266.96 517.2,260.77 C522.83,254.57 528.47,251.93 534.1,249.84 C539.73,247.74 545.37,247.83 551,248.2 C556.63,248.56 562.27,250.02 567.9,252.02 C573.53,254.03 579.17,257.31 584.8,260.22 C590.43,263.13 596.07,266.5 601.7,269.51 C607.33,272.51 612.97,275.61 618.6,278.25 C624.23,280.89 629.87,283.35 635.5,285.35 C641.13,287.36 649.58,289.45 652.4,290.27" fill="none" stroke="#ff8000" stroke-width="1.05" stroke-linejoin="round" stroke-linecap="round"/>
</g>
<circle cx="483.4" cy="327.43" r="1.65" fill="#ff8000"/>
<circle cx="500.3" cy="286.99" r="1.65" fill="#ff8000"/>
<circle cx="517.2" cy="260.77" r="1.65" fill="#ff8000"/>
<circle cx="534.1" cy="249.84" r="1.65" fill="#ff8000"/>
<circle cx="551" cy="248.2" r="1.65" fill="#ff8000"/>
<circle cx="567.9" cy="252.02" r="1.65" fill="#ff8000"/>
<circle cx="584.8" cy="260.22" r="1.65" fill="#ff8000"/>
<circle cx="601.7" cy="269.51" r="1.65" fill="#ff8000"/>
<circle cx="618.6" cy="278.25" r="1.65" fill="#ff8000"/>
<circle cx="635.5" cy="285.35" r="1.65" fill="#ff8000"/>
<circle cx="652.4" cy="290.27" r="1.65" fill="#ff8000"/>
<g clip-path="url(#gc)">
<path d="M483.4,288.63 C486.22,283.44 494.67,264.77 500.3,257.49 C505.93,250.2 511.57,246.83 517.2,244.92 C522.83,243.01 528.47,244.56 534.1,246.01 C539.73,247.47 545.37,250.38 551,253.66 C556.63,256.94 562.27,261.77 567.9,265.68 C573.53,269.6 579.17,273.61 584.8,277.16 C590.43,280.71 596.07,284.26 601.7,286.99 C607.33,289.72 612.97,291.82 618.6,293.55 C624.23,295.28 629.87,296.74 635.5,297.37 C641.13,298.01 649.58,297.37 652.4,297.37" fill="none" stroke="#8000ff" stroke-width="1.05" stroke-linejoin="round" stroke-linecap="round"/>
</g>
<polygon points="483.4,286.85 481.75,289.97 485.05,289.97" fill="#8000ff"/>
<polygon points="500.3,255.71 498.65,258.82 501.95,258.82" fill="#8000ff"/>
<polygon points="517.2,243.14 515.55,246.26 518.85,246.26" fill="#8000ff"/>
<polygon points="534.1,244.23 532.45,247.35 535.75,247.35" fill="#8000ff"/>
<polygon points="551,251.88 549.35,255 552.65,255" fill="#8000ff"/>
<polygon points="567.9,263.9 566.25,267.02 569.55,267.02" fill="#8000ff"/>
<polygon points="584.8,275.38 583.15,278.49 586.45,278.49" fill="#8000ff"/>
<polygon points="601.7,285.21 600.05,288.33 603.35,288.33" fill="#8000ff"/>
<polygon points="618.6,291.77 616.95,294.89 620.25,294.89" fill="#8000ff"/>
<polygon points="635.5,295.59 633.85,298.71 637.15,298.71" fill="#8000ff"/>
<polygon points="652.4,295.59 650.75,298.71 654.05,298.71" fill="#8000ff"/>
<g clip-path="url(#gc)">
<path d="M483.4,259.67 C486.22,257.21 494.67,247.11 500.3,244.92 C505.93,242.73 511.57,244.19 517.2,246.56 C522.83,248.93 528.47,254.57 534.1,259.13 C539.73,263.68 545.37,269.14 551,273.88 C556.63,278.61 562.27,283.44 567.9,287.54 C573.53,291.64 579.17,295.64 584.8,298.47 C590.43,301.29 596.07,303.29 601.7,304.48 C607.33,305.66 612.97,305.93 618.6,305.57 C624.23,305.21 629.87,303.84 635.5,302.29 C641.13,300.74 649.58,297.28 652.4,296.28" fill="none" stroke="#ff2a90" stroke-width="1.05" stroke-linejoin="round" stroke-linecap="round"/>
</g>
<polygon points="483.4,261.45 481.75,258.34 485.05,258.34" fill="#ff2a90"/>
<polygon points="500.3,246.7 498.65,243.58 501.95,243.58" fill="#ff2a90"/>
<polygon points="517.2,248.34 515.55,245.22 518.85,245.22" fill="#ff2a90"/>
<polygon points="534.1,260.91 532.45,257.79 535.75,257.79" fill="#ff2a90"/>
<polygon points="551,275.66 549.35,272.54 552.65,272.54" fill="#ff2a90"/>
<polygon points="567.9,289.32 566.25,286.2 569.55,286.2" fill="#ff2a90"/>
<polygon points="584.8,300.25 583.15,297.13 586.45,297.13" fill="#ff2a90"/>
<polygon points="601.7,306.26 600.05,303.14 603.35,303.14" fill="#ff2a90"/>
<polygon points="618.6,307.35 616.95,304.23 620.25,304.23" fill="#ff2a90"/>
<polygon points="635.5,304.07 633.85,300.96 637.15,300.96" fill="#ff2a90"/>
<polygon points="652.4,298.06 650.75,294.95 654.05,294.95" fill="#ff2a90"/>
<rect x="483.4" y="217.6" width="169" height="136.6" fill="none" stroke="#555" stroke-width="1.2"/>
<line x1="480.9" y1="354.2" x2="483.4" y2="354.2" stroke="#555" stroke-width="1.1"/>
<line x1="480.9" y1="326.88" x2="483.4" y2="326.88" stroke="#555" stroke-width="1.1"/>
<line x1="480.9" y1="299.56" x2="483.4" y2="299.56" stroke="#555" stroke-width="1.1"/>
<line x1="480.9" y1="272.24" x2="483.4" y2="272.24" stroke="#555" stroke-width="1.1"/>
<line x1="480.9" y1="244.92" x2="483.4" y2="244.92" stroke="#555" stroke-width="1.1"/>
<line x1="480.9" y1="217.6" x2="483.4" y2="217.6" stroke="#555" stroke-width="1.1"/>
<line x1="481.9" y1="340.54" x2="483.4" y2="340.54" stroke="#555" stroke-width="1.1"/>
<line x1="481.9" y1="313.22" x2="483.4" y2="313.22" stroke="#555" stroke-width="1.1"/>
<line x1="481.9" y1="285.9" x2="483.4" y2="285.9" stroke="#555" stroke-width="1.1"/>
<line x1="481.9" y1="258.58" x2="483.4" y2="258.58" stroke="#555" stroke-width="1.1"/>
<line x1="481.9" y1="231.26" x2="483.4" y2="231.26" stroke="#555" stroke-width="1.1"/>
<text x="478.6" y="357.44" font-size="9.0" fill="#222" text-anchor="end">0.80</text>
<text x="478.6" y="330.12" font-size="9.0" fill="#222" text-anchor="end">0.85</text>
<text x="478.6" y="302.8" font-size="9.0" fill="#222" text-anchor="end">0.90</text>
<text x="478.6" y="275.48" font-size="9.0" fill="#222" text-anchor="end">0.95</text>
<text x="478.6" y="248.16" font-size="9.0" fill="#222" text-anchor="end">1.00</text>
<text x="478.6" y="220.84" font-size="9.0" fill="#222" text-anchor="end">1.05</text>
<line x1="500.3" y1="354.2" x2="500.3" y2="356.7" stroke="#555" stroke-width="1.1"/>
<line x1="534.1" y1="354.2" x2="534.1" y2="356.7" stroke="#555" stroke-width="1.1"/>
<line x1="567.9" y1="354.2" x2="567.9" y2="356.7" stroke="#555" stroke-width="1.1"/>
<line x1="601.7" y1="354.2" x2="601.7" y2="356.7" stroke="#555" stroke-width="1.1"/>
<line x1="635.5" y1="354.2" x2="635.5" y2="356.7" stroke="#555" stroke-width="1.1"/>
<line x1="483.4" y1="354.2" x2="483.4" y2="355.7" stroke="#555" stroke-width="1.1"/>
<line x1="517.2" y1="354.2" x2="517.2" y2="355.7" stroke="#555" stroke-width="1.1"/>
<line x1="551" y1="354.2" x2="551" y2="355.7" stroke="#555" stroke-width="1.1"/>
<line x1="584.8" y1="354.2" x2="584.8" y2="355.7" stroke="#555" stroke-width="1.1"/>
<line x1="618.6" y1="354.2" x2="618.6" y2="355.7" stroke="#555" stroke-width="1.1"/>
<line x1="652.4" y1="354.2" x2="652.4" y2="355.7" stroke="#555" stroke-width="1.1"/>
<text x="500.3" y="366.1" font-size="8.8" fill="#222" text-anchor="middle">60</text>
<text x="534.1" y="366.1" font-size="8.8" fill="#222" text-anchor="middle">80</text>
<text x="567.9" y="366.1" font-size="8.8" fill="#222" text-anchor="middle">100</text>
<text x="601.7" y="366.1" font-size="8.8" fill="#222" text-anchor="middle">120</text>
<text x="635.5" y="366.1" font-size="8.8" fill="#222" text-anchor="middle">140</text>
<text x="453.5" y="285.4" font-size="11.6" fill="#222" text-anchor="middle" transform="rotate(-90 453.5 285.4)">Norm. Abs<tspan font-size="7.5" dy="3.3">AM1.5G</tspan></text>
<text x="568.3" y="378.9" font-size="11.5" fill="#222" text-anchor="middle">Active layer thickness (nm)</text>
<text x="510" y="335" font-size="10.0" fill="#ff1f1f">PM6:Y6</text>
<text x="499" y="347.6" font-size="10.2" fill="#ff1f1f">Simulated <tspan font-style="italic">n</tspan>-dependent Abs<tspan font-size="7.3" dy="3.3">AM1.5G</tspan></text>
<line x1="541.8" y1="225.4" x2="557.4" y2="225.4" stroke="#1e9cff" stroke-width="1.05"/>
<rect x="547.65" y="223.45" width="3.9" height="3.9" fill="#1e9cff"/>
<text x="560.3" y="228.8" font-size="10.4" fill="#222">80% <tspan font-style="italic">n</tspan></text>
<line x1="541.8" y1="238.3" x2="557.4" y2="238.3" stroke="#ff8000" stroke-width="1.05"/>
<circle cx="549.6" cy="238.3" r="1.95" fill="#ff8000"/>
<text x="560.3" y="241.7" font-size="10.4" fill="#222">90% <tspan font-style="italic">n</tspan></text>
<line x1="594.5" y1="225.4" x2="610.1" y2="225.4" stroke="#ff2a90" stroke-width="1.05"/>
<polygon points="602.3,227.51 600.35,223.82 604.25,223.82" fill="#ff2a90"/>
<text x="613" y="228.8" font-size="10.4" fill="#222">110% <tspan font-style="italic">n</tspan></text>
<line x1="594.5" y1="238.3" x2="610.1" y2="238.3" stroke="#8000ff" stroke-width="1.05"/>
<polygon points="602.3,236.19 600.35,239.88 604.25,239.88" fill="#8000ff"/>
<text x="613" y="241.7" font-size="10.4" fill="#222">100% <tspan font-style="italic">n</tspan></text>
</svg>
</body></html>
